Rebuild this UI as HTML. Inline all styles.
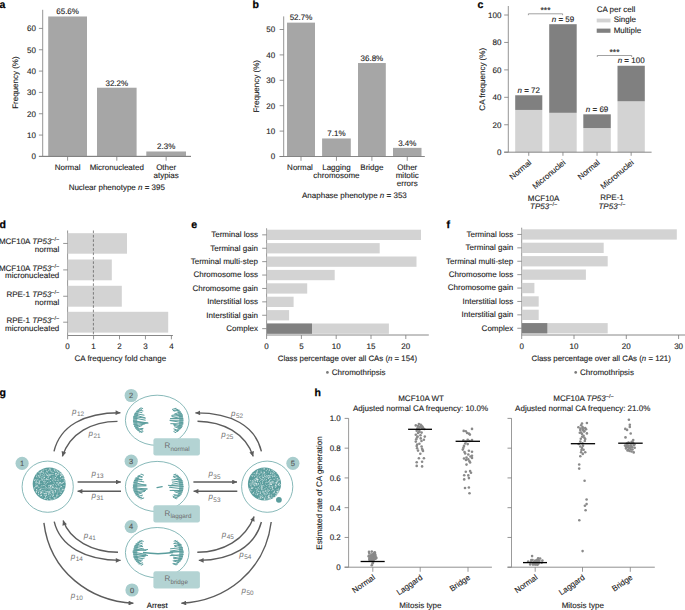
<!DOCTYPE html>
<html><head><meta charset="utf-8"><style>
html,body{margin:0;padding:0;background:#fff;}
svg{display:block;}
text{font-family:"Liberation Sans",sans-serif;text-rendering:geometricPrecision;}
</style></head><body>
<svg width="685" height="610" viewBox="0 0 685 610">
<rect width="685" height="610" fill="#fff"/>
<text x="-0.50" y="7.90" font-size="10.5" font-weight="bold" fill="#000" stroke="#000" stroke-width="0.25">a</text>
<line x1="42.70" y1="9.80" x2="42.70" y2="156.40" stroke="#7a7a7a" stroke-width="0.8" />
<line x1="38.90" y1="156.40" x2="191.00" y2="156.40" stroke="#7a7a7a" stroke-width="0.8" />
<line x1="38.90" y1="156.40" x2="42.70" y2="156.40" stroke="#7a7a7a" stroke-width="0.8" />
<text x="36.00" y="159.30" font-size="8" fill="#1c1c1c" stroke="#1c1c1c" stroke-width="0.12" text-anchor="end" >0</text>
<line x1="38.90" y1="135.07" x2="42.70" y2="135.07" stroke="#7a7a7a" stroke-width="0.8" />
<text x="36.00" y="137.97" font-size="8" fill="#1c1c1c" stroke="#1c1c1c" stroke-width="0.12" text-anchor="end" >10</text>
<line x1="38.90" y1="113.74" x2="42.70" y2="113.74" stroke="#7a7a7a" stroke-width="0.8" />
<text x="36.00" y="116.64" font-size="8" fill="#1c1c1c" stroke="#1c1c1c" stroke-width="0.12" text-anchor="end" >20</text>
<line x1="38.90" y1="92.41" x2="42.70" y2="92.41" stroke="#7a7a7a" stroke-width="0.8" />
<text x="36.00" y="95.31" font-size="8" fill="#1c1c1c" stroke="#1c1c1c" stroke-width="0.12" text-anchor="end" >30</text>
<line x1="38.90" y1="71.08" x2="42.70" y2="71.08" stroke="#7a7a7a" stroke-width="0.8" />
<text x="36.00" y="73.98" font-size="8" fill="#1c1c1c" stroke="#1c1c1c" stroke-width="0.12" text-anchor="end" >40</text>
<line x1="38.90" y1="49.75" x2="42.70" y2="49.75" stroke="#7a7a7a" stroke-width="0.8" />
<text x="36.00" y="52.65" font-size="8" fill="#1c1c1c" stroke="#1c1c1c" stroke-width="0.12" text-anchor="end" >50</text>
<line x1="38.90" y1="28.42" x2="42.70" y2="28.42" stroke="#7a7a7a" stroke-width="0.8" />
<text x="36.00" y="31.32" font-size="8" fill="#1c1c1c" stroke="#1c1c1c" stroke-width="0.12" text-anchor="end" >60</text>
<rect x="48.20" y="16.48" width="38.80" height="139.92" fill="#a6a6a6"/>
<text x="67.60" y="14.28" font-size="8" fill="#1c1c1c" stroke="#1c1c1c" stroke-width="0.12" text-anchor="middle" >65.6%</text>
<line x1="67.60" y1="156.40" x2="67.60" y2="160.70" stroke="#7a7a7a" stroke-width="0.8" />
<text x="67.60" y="170.00" font-size="8" fill="#1c1c1c" stroke="#1c1c1c" stroke-width="0.12" text-anchor="middle" >Normal</text>
<rect x="97.00" y="87.72" width="39.60" height="68.68" fill="#a6a6a6"/>
<text x="116.80" y="85.52" font-size="8" fill="#1c1c1c" stroke="#1c1c1c" stroke-width="0.12" text-anchor="middle" >32.2%</text>
<line x1="116.80" y1="156.40" x2="116.80" y2="160.70" stroke="#7a7a7a" stroke-width="0.8" />
<text x="116.80" y="170.00" font-size="8" fill="#1c1c1c" stroke="#1c1c1c" stroke-width="0.12" text-anchor="middle" >Micronucleated</text>
<rect x="146.30" y="151.49" width="39.70" height="4.91" fill="#a6a6a6"/>
<text x="166.15" y="149.29" font-size="8" fill="#1c1c1c" stroke="#1c1c1c" stroke-width="0.12" text-anchor="middle" >2.3%</text>
<line x1="166.15" y1="156.40" x2="166.15" y2="160.70" stroke="#7a7a7a" stroke-width="0.8" />
<text x="166.15" y="170.00" font-size="8" fill="#1c1c1c" stroke="#1c1c1c" stroke-width="0.12" text-anchor="middle" >Other</text>
<text x="166.15" y="178.00" font-size="8" fill="#1c1c1c" stroke="#1c1c1c" stroke-width="0.12" text-anchor="middle" >atypias</text>
<line x1="42.70" y1="156.40" x2="191.00" y2="156.40" stroke="#7a7a7a" stroke-width="0.9" />
<text x="116.80" y="189.90" font-size="8" fill="#1c1c1c" stroke="#1c1c1c" stroke-width="0.12" text-anchor="middle" >Nuclear phenotype <tspan font-style="italic">n</tspan> = 395</text>
<text x="0" y="0" font-size="8" fill="#1c1c1c" stroke="#1c1c1c" stroke-width="0.12" text-anchor="middle" transform="translate(18.00,82.60) rotate(-90)">Frequency (%)</text>
<text x="252.60" y="7.90" font-size="10.5" font-weight="bold" fill="#000" stroke="#000" stroke-width="0.25">b</text>
<line x1="283.70" y1="16.40" x2="283.70" y2="156.50" stroke="#7a7a7a" stroke-width="0.8" />
<line x1="279.60" y1="156.50" x2="283.70" y2="156.50" stroke="#7a7a7a" stroke-width="0.8" />
<text x="275.10" y="159.40" font-size="8" fill="#1c1c1c" stroke="#1c1c1c" stroke-width="0.12" text-anchor="end" >0</text>
<line x1="279.60" y1="131.10" x2="283.70" y2="131.10" stroke="#7a7a7a" stroke-width="0.8" />
<text x="275.10" y="134.00" font-size="8" fill="#1c1c1c" stroke="#1c1c1c" stroke-width="0.12" text-anchor="end" >10</text>
<line x1="279.60" y1="105.70" x2="283.70" y2="105.70" stroke="#7a7a7a" stroke-width="0.8" />
<text x="275.10" y="108.60" font-size="8" fill="#1c1c1c" stroke="#1c1c1c" stroke-width="0.12" text-anchor="end" >20</text>
<line x1="279.60" y1="80.30" x2="283.70" y2="80.30" stroke="#7a7a7a" stroke-width="0.8" />
<text x="275.10" y="83.20" font-size="8" fill="#1c1c1c" stroke="#1c1c1c" stroke-width="0.12" text-anchor="end" >30</text>
<line x1="279.60" y1="54.90" x2="283.70" y2="54.90" stroke="#7a7a7a" stroke-width="0.8" />
<text x="275.10" y="57.80" font-size="8" fill="#1c1c1c" stroke="#1c1c1c" stroke-width="0.12" text-anchor="end" >40</text>
<line x1="279.60" y1="29.50" x2="283.70" y2="29.50" stroke="#7a7a7a" stroke-width="0.8" />
<text x="275.10" y="32.40" font-size="8" fill="#1c1c1c" stroke="#1c1c1c" stroke-width="0.12" text-anchor="end" >50</text>
<rect x="287.00" y="22.64" width="28.00" height="133.86" fill="#a6a6a6"/>
<text x="301.00" y="20.44" font-size="8" fill="#1c1c1c" stroke="#1c1c1c" stroke-width="0.12" text-anchor="middle" >52.7%</text>
<line x1="301.00" y1="156.50" x2="301.00" y2="160.80" stroke="#7a7a7a" stroke-width="0.8" />
<rect x="322.10" y="138.47" width="28.70" height="18.03" fill="#a6a6a6"/>
<text x="336.45" y="136.27" font-size="8" fill="#1c1c1c" stroke="#1c1c1c" stroke-width="0.12" text-anchor="middle" >7.1%</text>
<line x1="336.45" y1="156.50" x2="336.45" y2="160.80" stroke="#7a7a7a" stroke-width="0.8" />
<rect x="358.00" y="63.03" width="27.80" height="93.47" fill="#a6a6a6"/>
<text x="371.90" y="60.83" font-size="8" fill="#1c1c1c" stroke="#1c1c1c" stroke-width="0.12" text-anchor="middle" >36.8%</text>
<line x1="371.90" y1="156.50" x2="371.90" y2="160.80" stroke="#7a7a7a" stroke-width="0.8" />
<rect x="393.00" y="147.86" width="28.50" height="8.64" fill="#a6a6a6"/>
<text x="407.25" y="145.66" font-size="8" fill="#1c1c1c" stroke="#1c1c1c" stroke-width="0.12" text-anchor="middle" >3.4%</text>
<line x1="407.25" y1="156.50" x2="407.25" y2="160.80" stroke="#7a7a7a" stroke-width="0.8" />
<line x1="279.60" y1="156.50" x2="424.80" y2="156.50" stroke="#7a7a7a" stroke-width="0.9" />
<text x="300.00" y="169.80" font-size="8" fill="#1c1c1c" stroke="#1c1c1c" stroke-width="0.12" text-anchor="middle" >Normal</text>
<text x="336.45" y="169.80" font-size="8" fill="#1c1c1c" stroke="#1c1c1c" stroke-width="0.12" text-anchor="middle" >Lagging</text>
<text x="336.45" y="178.10" font-size="8" fill="#1c1c1c" stroke="#1c1c1c" stroke-width="0.12" text-anchor="middle" >chromosome</text>
<text x="371.90" y="169.80" font-size="8" fill="#1c1c1c" stroke="#1c1c1c" stroke-width="0.12" text-anchor="middle" >Bridge</text>
<text x="407.25" y="169.80" font-size="8" fill="#1c1c1c" stroke="#1c1c1c" stroke-width="0.12" text-anchor="middle" >Other</text>
<text x="407.25" y="178.10" font-size="8" fill="#1c1c1c" stroke="#1c1c1c" stroke-width="0.12" text-anchor="middle" >mitotic</text>
<text x="407.25" y="185.60" font-size="8" fill="#1c1c1c" stroke="#1c1c1c" stroke-width="0.12" text-anchor="middle" >errors</text>
<text x="354.40" y="198.20" font-size="8" fill="#1c1c1c" stroke="#1c1c1c" stroke-width="0.12" text-anchor="middle" >Anaphase phenotype <tspan font-style="italic">n</tspan> = 353</text>
<text x="0" y="0" font-size="8" fill="#1c1c1c" stroke="#1c1c1c" stroke-width="0.12" text-anchor="middle" transform="translate(258.60,86.30) rotate(-90)">Frequency (%)</text>
<text x="477.60" y="7.50" font-size="10.5" font-weight="bold" fill="#000" stroke="#000" stroke-width="0.25">c</text>
<line x1="508.30" y1="6.00" x2="508.30" y2="152.20" stroke="#7a7a7a" stroke-width="0.8" />
<line x1="504.20" y1="152.20" x2="508.30" y2="152.20" stroke="#7a7a7a" stroke-width="0.8" />
<text x="501.40" y="155.10" font-size="8" fill="#1c1c1c" stroke="#1c1c1c" stroke-width="0.12" text-anchor="end" >0</text>
<line x1="504.20" y1="124.76" x2="508.30" y2="124.76" stroke="#7a7a7a" stroke-width="0.8" />
<text x="501.40" y="127.66" font-size="8" fill="#1c1c1c" stroke="#1c1c1c" stroke-width="0.12" text-anchor="end" >20</text>
<line x1="504.20" y1="97.32" x2="508.30" y2="97.32" stroke="#7a7a7a" stroke-width="0.8" />
<text x="501.40" y="100.22" font-size="8" fill="#1c1c1c" stroke="#1c1c1c" stroke-width="0.12" text-anchor="end" >40</text>
<line x1="504.20" y1="69.88" x2="508.30" y2="69.88" stroke="#7a7a7a" stroke-width="0.8" />
<text x="501.40" y="72.78" font-size="8" fill="#1c1c1c" stroke="#1c1c1c" stroke-width="0.12" text-anchor="end" >60</text>
<line x1="504.20" y1="42.44" x2="508.30" y2="42.44" stroke="#7a7a7a" stroke-width="0.8" />
<text x="501.40" y="45.34" font-size="8" fill="#1c1c1c" stroke="#1c1c1c" stroke-width="0.12" text-anchor="end" >80</text>
<line x1="504.20" y1="15.00" x2="508.30" y2="15.00" stroke="#7a7a7a" stroke-width="0.8" />
<text x="501.40" y="17.90" font-size="8" fill="#1c1c1c" stroke="#1c1c1c" stroke-width="0.12" text-anchor="end" >100</text>
<rect x="515.20" y="109.94" width="27.10" height="42.26" fill="#d3d3d3"/>
<rect x="515.20" y="95.26" width="27.10" height="14.68" fill="#808080"/>
<line x1="528.75" y1="152.20" x2="528.75" y2="155.80" stroke="#7a7a7a" stroke-width="0.8" />
<text x="0" y="0" font-size="8" fill="#1c1c1c" stroke="#1c1c1c" stroke-width="0.12" text-anchor="end" transform="translate(531.95,163.40) rotate(-40)">Normal</text>
<text x="528.75" y="92.66" font-size="8" fill="#1c1c1c" stroke="#1c1c1c" stroke-width="0.12" text-anchor="middle" ><tspan font-style="italic">n</tspan> = 72</text>
<rect x="549.20" y="112.82" width="27.50" height="39.38" fill="#d3d3d3"/>
<rect x="549.20" y="24.19" width="27.50" height="88.63" fill="#808080"/>
<line x1="562.95" y1="152.20" x2="562.95" y2="155.80" stroke="#7a7a7a" stroke-width="0.8" />
<text x="0" y="0" font-size="8" fill="#1c1c1c" stroke="#1c1c1c" stroke-width="0.12" text-anchor="end" transform="translate(566.15,163.40) rotate(-40)">Micronuclei</text>
<text x="562.95" y="21.59" font-size="8" fill="#1c1c1c" stroke="#1c1c1c" stroke-width="0.12" text-anchor="middle" ><tspan font-style="italic">n</tspan> = 59</text>
<rect x="583.30" y="128.05" width="27.50" height="24.15" fill="#d3d3d3"/>
<rect x="583.30" y="114.33" width="27.50" height="13.72" fill="#808080"/>
<line x1="597.05" y1="152.20" x2="597.05" y2="155.80" stroke="#7a7a7a" stroke-width="0.8" />
<text x="0" y="0" font-size="8" fill="#1c1c1c" stroke="#1c1c1c" stroke-width="0.12" text-anchor="end" transform="translate(600.25,163.40) rotate(-40)">Normal</text>
<text x="597.05" y="111.73" font-size="8" fill="#1c1c1c" stroke="#1c1c1c" stroke-width="0.12" text-anchor="middle" ><tspan font-style="italic">n</tspan> = 69</text>
<rect x="617.50" y="101.30" width="27.30" height="50.90" fill="#d3d3d3"/>
<rect x="617.50" y="65.76" width="27.30" height="35.53" fill="#808080"/>
<line x1="631.15" y1="152.20" x2="631.15" y2="155.80" stroke="#7a7a7a" stroke-width="0.8" />
<text x="0" y="0" font-size="8" fill="#1c1c1c" stroke="#1c1c1c" stroke-width="0.12" text-anchor="end" transform="translate(634.35,163.40) rotate(-40)">Micronuclei</text>
<text x="631.15" y="63.16" font-size="8" fill="#1c1c1c" stroke="#1c1c1c" stroke-width="0.12" text-anchor="middle" ><tspan font-style="italic">n</tspan> = 100</text>
<line x1="504.20" y1="152.20" x2="651.60" y2="152.20" stroke="#7a7a7a" stroke-width="0.9" />
<path d="M528.4,15.2 V13.8 H562.6 V15.2" fill="none" stroke="#7a7a7a" stroke-width="0.7"/>
<text x="545.50" y="13.30" font-size="8.5" fill="#1c1c1c" stroke="#1c1c1c" stroke-width="0.12" text-anchor="middle" >***</text>
<path d="M597.3,57 V55.5 H631.7 V57" fill="none" stroke="#7a7a7a" stroke-width="0.7"/>
<text x="614.50" y="55.00" font-size="8.5" fill="#1c1c1c" stroke="#1c1c1c" stroke-width="0.12" text-anchor="middle" >***</text>
<text x="596.70" y="11.60" font-size="8" fill="#1c1c1c" stroke="#1c1c1c" stroke-width="0.12" text-anchor="start" >CA per cell</text>
<rect x="596.70" y="18.60" width="13.80" height="3.80" fill="#d3d3d3"/>
<text x="613.70" y="22.40" font-size="8" fill="#1c1c1c" stroke="#1c1c1c" stroke-width="0.12" text-anchor="start" >Single</text>
<rect x="596.70" y="28.60" width="13.80" height="4.20" fill="#808080"/>
<text x="613.70" y="32.80" font-size="8" fill="#1c1c1c" stroke="#1c1c1c" stroke-width="0.12" text-anchor="start" >Multiple</text>
<text x="543.60" y="201.20" font-size="8" fill="#1c1c1c" stroke="#1c1c1c" stroke-width="0.12" text-anchor="middle" >MCF10A</text>
<text x="543.60" y="209.30" font-size="8" fill="#1c1c1c" stroke="#1c1c1c" stroke-width="0.12" text-anchor="middle" ><tspan font-style="italic">TP53</tspan><tspan font-size="5.5" dy="-3.2">&#8722;/&#8722;</tspan></text>
<text x="612.00" y="200.40" font-size="8" fill="#1c1c1c" stroke="#1c1c1c" stroke-width="0.12" text-anchor="middle" >RPE-1</text>
<text x="612.00" y="209.30" font-size="8" fill="#1c1c1c" stroke="#1c1c1c" stroke-width="0.12" text-anchor="middle" ><tspan font-style="italic">TP53</tspan><tspan font-size="5.5" dy="-3.2">&#8722;/&#8722;</tspan></text>
<text x="0" y="0" font-size="8" fill="#1c1c1c" stroke="#1c1c1c" stroke-width="0.12" text-anchor="middle" transform="translate(484.90,79.30) rotate(-90)">CA frequency (%)</text>
<text x="-0.50" y="228.30" font-size="10.5" font-weight="bold" fill="#000" stroke="#000" stroke-width="0.25">d</text>
<line x1="67.60" y1="230.50" x2="67.60" y2="335.50" stroke="#7a7a7a" stroke-width="0.8" />
<line x1="67.60" y1="335.50" x2="172.90" y2="335.50" stroke="#7a7a7a" stroke-width="0.9" />
<rect x="67.60" y="233.20" width="59.40" height="20.50" fill="#d3d3d3"/>
<line x1="63.20" y1="243.45" x2="67.60" y2="243.45" stroke="#7a7a7a" stroke-width="0.8" />
<text x="59.30" y="244.45" font-size="8" fill="#1c1c1c" stroke="#1c1c1c" stroke-width="0.12" text-anchor="end" >MCF10A <tspan font-style="italic">TP53</tspan><tspan font-size="5.5" dy="-3.2">&#8722;/&#8722;</tspan></text>
<text x="59.30" y="251.85" font-size="8" fill="#1c1c1c" stroke="#1c1c1c" stroke-width="0.12" text-anchor="end" >normal</text>
<rect x="67.60" y="259.50" width="44.20" height="20.80" fill="#d3d3d3"/>
<line x1="63.20" y1="269.90" x2="67.60" y2="269.90" stroke="#7a7a7a" stroke-width="0.8" />
<text x="59.30" y="270.90" font-size="8" fill="#1c1c1c" stroke="#1c1c1c" stroke-width="0.12" text-anchor="end" >MCF10A <tspan font-style="italic">TP53</tspan><tspan font-size="5.5" dy="-3.2">&#8722;/&#8722;</tspan></text>
<text x="59.30" y="278.30" font-size="8" fill="#1c1c1c" stroke="#1c1c1c" stroke-width="0.12" text-anchor="end" >micronucleated</text>
<rect x="67.60" y="285.80" width="54.20" height="20.90" fill="#d3d3d3"/>
<line x1="63.20" y1="296.25" x2="67.60" y2="296.25" stroke="#7a7a7a" stroke-width="0.8" />
<text x="59.30" y="297.25" font-size="8" fill="#1c1c1c" stroke="#1c1c1c" stroke-width="0.12" text-anchor="end" >RPE-1 <tspan font-style="italic">TP53</tspan><tspan font-size="5.5" dy="-3.2">&#8722;/&#8722;</tspan></text>
<text x="59.30" y="304.65" font-size="8" fill="#1c1c1c" stroke="#1c1c1c" stroke-width="0.12" text-anchor="end" >normal</text>
<rect x="67.60" y="311.80" width="100.60" height="20.80" fill="#d3d3d3"/>
<line x1="63.20" y1="322.20" x2="67.60" y2="322.20" stroke="#7a7a7a" stroke-width="0.8" />
<text x="59.30" y="323.20" font-size="8" fill="#1c1c1c" stroke="#1c1c1c" stroke-width="0.12" text-anchor="end" >RPE-1 <tspan font-style="italic">TP53</tspan><tspan font-size="5.5" dy="-3.2">&#8722;/&#8722;</tspan></text>
<text x="59.30" y="330.60" font-size="8" fill="#1c1c1c" stroke="#1c1c1c" stroke-width="0.12" text-anchor="end" >micronucleated</text>
<line x1="67.60" y1="335.50" x2="67.60" y2="339.30" stroke="#7a7a7a" stroke-width="0.8" />
<text x="67.60" y="348.60" font-size="8" fill="#1c1c1c" stroke="#1c1c1c" stroke-width="0.12" text-anchor="middle" >0</text>
<line x1="93.55" y1="335.50" x2="93.55" y2="339.30" stroke="#7a7a7a" stroke-width="0.8" />
<text x="93.55" y="348.60" font-size="8" fill="#1c1c1c" stroke="#1c1c1c" stroke-width="0.12" text-anchor="middle" >1</text>
<line x1="119.50" y1="335.50" x2="119.50" y2="339.30" stroke="#7a7a7a" stroke-width="0.8" />
<text x="119.50" y="348.60" font-size="8" fill="#1c1c1c" stroke="#1c1c1c" stroke-width="0.12" text-anchor="middle" >2</text>
<line x1="145.45" y1="335.50" x2="145.45" y2="339.30" stroke="#7a7a7a" stroke-width="0.8" />
<text x="145.45" y="348.60" font-size="8" fill="#1c1c1c" stroke="#1c1c1c" stroke-width="0.12" text-anchor="middle" >3</text>
<line x1="171.40" y1="335.50" x2="171.40" y2="339.30" stroke="#7a7a7a" stroke-width="0.8" />
<text x="171.40" y="348.60" font-size="8" fill="#1c1c1c" stroke="#1c1c1c" stroke-width="0.12" text-anchor="middle" >4</text>
<line x1="93.4" y1="230.5" x2="93.4" y2="335.5" stroke="#555" stroke-width="0.7" stroke-dasharray="2.6,1.8"/>
<text x="120.30" y="360.60" font-size="8" fill="#1c1c1c" stroke="#1c1c1c" stroke-width="0.12" text-anchor="middle" >CA frequency fold change</text>
<text x="191.20" y="228.30" font-size="10.5" font-weight="bold" fill="#000" stroke="#000" stroke-width="0.25">e</text>
<line x1="266.60" y1="228.30" x2="266.60" y2="335.00" stroke="#7a7a7a" stroke-width="0.8" />
<rect x="266.60" y="229.70" width="154.40" height="10.30" fill="#d3d3d3"/>
<line x1="262.20" y1="234.85" x2="266.60" y2="234.85" stroke="#7a7a7a" stroke-width="0.8" />
<text x="257.90" y="237.25" font-size="8" fill="#1c1c1c" stroke="#1c1c1c" stroke-width="0.12" text-anchor="end" >Terminal loss</text>
<rect x="266.60" y="243.10" width="113.10" height="10.30" fill="#d3d3d3"/>
<line x1="262.20" y1="248.25" x2="266.60" y2="248.25" stroke="#7a7a7a" stroke-width="0.8" />
<text x="257.90" y="250.65" font-size="8" fill="#1c1c1c" stroke="#1c1c1c" stroke-width="0.12" text-anchor="end" >Terminal gain</text>
<rect x="266.60" y="256.50" width="149.90" height="10.30" fill="#d3d3d3"/>
<line x1="262.20" y1="261.65" x2="266.60" y2="261.65" stroke="#7a7a7a" stroke-width="0.8" />
<text x="257.90" y="264.05" font-size="8" fill="#1c1c1c" stroke="#1c1c1c" stroke-width="0.12" text-anchor="end" >Terminal multi-step</text>
<rect x="266.60" y="269.90" width="68.10" height="10.30" fill="#d3d3d3"/>
<line x1="262.20" y1="275.05" x2="266.60" y2="275.05" stroke="#7a7a7a" stroke-width="0.8" />
<text x="257.90" y="277.45" font-size="8" fill="#1c1c1c" stroke="#1c1c1c" stroke-width="0.12" text-anchor="end" >Chromosome loss</text>
<rect x="266.60" y="283.30" width="40.60" height="10.30" fill="#d3d3d3"/>
<line x1="262.20" y1="288.45" x2="266.60" y2="288.45" stroke="#7a7a7a" stroke-width="0.8" />
<text x="257.90" y="290.85" font-size="8" fill="#1c1c1c" stroke="#1c1c1c" stroke-width="0.12" text-anchor="end" >Chromosome gain</text>
<rect x="266.60" y="296.70" width="27.00" height="10.30" fill="#d3d3d3"/>
<line x1="262.20" y1="301.85" x2="266.60" y2="301.85" stroke="#7a7a7a" stroke-width="0.8" />
<text x="257.90" y="304.25" font-size="8" fill="#1c1c1c" stroke="#1c1c1c" stroke-width="0.12" text-anchor="end" >Interstitial loss</text>
<rect x="266.60" y="310.10" width="22.50" height="10.30" fill="#d3d3d3"/>
<line x1="262.20" y1="315.25" x2="266.60" y2="315.25" stroke="#7a7a7a" stroke-width="0.8" />
<text x="257.90" y="317.65" font-size="8" fill="#1c1c1c" stroke="#1c1c1c" stroke-width="0.12" text-anchor="end" >Interstitial gain</text>
<rect x="266.60" y="323.50" width="122.30" height="10.30" fill="#d3d3d3"/>
<rect x="266.60" y="323.50" width="45.40" height="10.30" fill="#808080"/>
<line x1="262.20" y1="328.65" x2="266.60" y2="328.65" stroke="#7a7a7a" stroke-width="0.8" />
<text x="257.90" y="331.05" font-size="8" fill="#1c1c1c" stroke="#1c1c1c" stroke-width="0.12" text-anchor="end" >Complex</text>
<line x1="266.60" y1="335.00" x2="428.80" y2="335.00" stroke="#7a7a7a" stroke-width="0.9" />
<line x1="266.60" y1="335.00" x2="266.60" y2="339.00" stroke="#7a7a7a" stroke-width="0.8" />
<text x="266.60" y="349.40" font-size="8" fill="#1c1c1c" stroke="#1c1c1c" stroke-width="0.12" text-anchor="middle" >0</text>
<line x1="301.40" y1="335.00" x2="301.40" y2="339.00" stroke="#7a7a7a" stroke-width="0.8" />
<text x="301.40" y="349.40" font-size="8" fill="#1c1c1c" stroke="#1c1c1c" stroke-width="0.12" text-anchor="middle" >5</text>
<line x1="336.20" y1="335.00" x2="336.20" y2="339.00" stroke="#7a7a7a" stroke-width="0.8" />
<text x="336.20" y="349.40" font-size="8" fill="#1c1c1c" stroke="#1c1c1c" stroke-width="0.12" text-anchor="middle" >10</text>
<line x1="371.00" y1="335.00" x2="371.00" y2="339.00" stroke="#7a7a7a" stroke-width="0.8" />
<text x="371.00" y="349.40" font-size="8" fill="#1c1c1c" stroke="#1c1c1c" stroke-width="0.12" text-anchor="middle" >15</text>
<line x1="405.80" y1="335.00" x2="405.80" y2="339.00" stroke="#7a7a7a" stroke-width="0.8" />
<text x="405.80" y="349.40" font-size="8" fill="#1c1c1c" stroke="#1c1c1c" stroke-width="0.12" text-anchor="middle" >20</text>
<text x="347.40" y="361.00" font-size="7.85" fill="#1c1c1c" stroke="#1c1c1c" stroke-width="0.12" text-anchor="middle" >Class percentage over all CAs (<tspan font-style="italic">n</tspan> = 154)</text>
<circle cx="327.40" cy="372.4" r="1.35" fill="#7a7a7a"/>
<text x="331.80" y="374.60" font-size="8" fill="#1c1c1c" stroke="#1c1c1c" stroke-width="0.12" text-anchor="start" >Chromothripsis</text>
<text x="446.40" y="228.30" font-size="10.5" font-weight="bold" fill="#000" stroke="#000" stroke-width="0.25">f</text>
<line x1="521.70" y1="227.70" x2="521.70" y2="335.00" stroke="#7a7a7a" stroke-width="0.8" />
<rect x="521.70" y="229.30" width="155.10" height="10.30" fill="#d3d3d3"/>
<line x1="517.30" y1="234.45" x2="521.70" y2="234.45" stroke="#7a7a7a" stroke-width="0.8" />
<text x="513.20" y="236.85" font-size="8" fill="#1c1c1c" stroke="#1c1c1c" stroke-width="0.12" text-anchor="end" >Terminal loss</text>
<rect x="521.70" y="242.70" width="82.00" height="10.30" fill="#d3d3d3"/>
<line x1="517.30" y1="247.85" x2="521.70" y2="247.85" stroke="#7a7a7a" stroke-width="0.8" />
<text x="513.20" y="250.25" font-size="8" fill="#1c1c1c" stroke="#1c1c1c" stroke-width="0.12" text-anchor="end" >Terminal gain</text>
<rect x="521.70" y="256.10" width="86.00" height="10.30" fill="#d3d3d3"/>
<line x1="517.30" y1="261.25" x2="521.70" y2="261.25" stroke="#7a7a7a" stroke-width="0.8" />
<text x="513.20" y="263.65" font-size="8" fill="#1c1c1c" stroke="#1c1c1c" stroke-width="0.12" text-anchor="end" >Terminal multi-step</text>
<rect x="521.70" y="269.50" width="64.20" height="10.30" fill="#d3d3d3"/>
<line x1="517.30" y1="274.65" x2="521.70" y2="274.65" stroke="#7a7a7a" stroke-width="0.8" />
<text x="513.20" y="277.05" font-size="8" fill="#1c1c1c" stroke="#1c1c1c" stroke-width="0.12" text-anchor="end" >Chromosome loss</text>
<rect x="521.70" y="282.90" width="12.70" height="10.30" fill="#d3d3d3"/>
<line x1="517.30" y1="288.05" x2="521.70" y2="288.05" stroke="#7a7a7a" stroke-width="0.8" />
<text x="513.20" y="290.45" font-size="8" fill="#1c1c1c" stroke="#1c1c1c" stroke-width="0.12" text-anchor="end" >Chromosome gain</text>
<rect x="521.70" y="296.30" width="17.00" height="10.30" fill="#d3d3d3"/>
<line x1="517.30" y1="301.45" x2="521.70" y2="301.45" stroke="#7a7a7a" stroke-width="0.8" />
<text x="513.20" y="303.85" font-size="8" fill="#1c1c1c" stroke="#1c1c1c" stroke-width="0.12" text-anchor="end" >Interstitial loss</text>
<rect x="521.70" y="309.70" width="17.00" height="10.30" fill="#d3d3d3"/>
<line x1="517.30" y1="314.85" x2="521.70" y2="314.85" stroke="#7a7a7a" stroke-width="0.8" />
<text x="513.20" y="317.25" font-size="8" fill="#1c1c1c" stroke="#1c1c1c" stroke-width="0.12" text-anchor="end" >Interstitial gain</text>
<rect x="521.70" y="323.10" width="86.00" height="10.30" fill="#d3d3d3"/>
<rect x="521.70" y="323.10" width="25.60" height="10.30" fill="#808080"/>
<line x1="517.30" y1="328.25" x2="521.70" y2="328.25" stroke="#7a7a7a" stroke-width="0.8" />
<text x="513.20" y="330.65" font-size="8" fill="#1c1c1c" stroke="#1c1c1c" stroke-width="0.12" text-anchor="end" >Complex</text>
<line x1="521.70" y1="335.00" x2="686.00" y2="335.00" stroke="#7a7a7a" stroke-width="0.9" />
<line x1="521.70" y1="335.00" x2="521.70" y2="339.00" stroke="#7a7a7a" stroke-width="0.8" />
<text x="521.70" y="349.40" font-size="8" fill="#1c1c1c" stroke="#1c1c1c" stroke-width="0.12" text-anchor="middle" >0</text>
<line x1="574.00" y1="335.00" x2="574.00" y2="339.00" stroke="#7a7a7a" stroke-width="0.8" />
<text x="574.00" y="349.40" font-size="8" fill="#1c1c1c" stroke="#1c1c1c" stroke-width="0.12" text-anchor="middle" >10</text>
<line x1="626.30" y1="335.00" x2="626.30" y2="339.00" stroke="#7a7a7a" stroke-width="0.8" />
<text x="626.30" y="349.40" font-size="8" fill="#1c1c1c" stroke="#1c1c1c" stroke-width="0.12" text-anchor="middle" >20</text>
<line x1="678.60" y1="335.00" x2="678.60" y2="339.00" stroke="#7a7a7a" stroke-width="0.8" />
<text x="678.60" y="349.40" font-size="8" fill="#1c1c1c" stroke="#1c1c1c" stroke-width="0.12" text-anchor="middle" >30</text>
<text x="601.20" y="361.00" font-size="7.85" fill="#1c1c1c" stroke="#1c1c1c" stroke-width="0.12" text-anchor="middle" >Class percentage over all CAs (<tspan font-style="italic">n</tspan> = 121)</text>
<circle cx="575.70" cy="372.4" r="1.35" fill="#7a7a7a"/>
<text x="580.10" y="374.60" font-size="8" fill="#1c1c1c" stroke="#1c1c1c" stroke-width="0.12" text-anchor="start" >Chromothripsis</text>
<text x="-0.50" y="396.20" font-size="10.5" font-weight="bold" fill="#000" stroke="#000" stroke-width="0.25">g</text>
<defs><marker id="ah" viewBox="0 0 10 10" refX="10" refY="5" markerWidth="5.4" markerHeight="4.8" orient="auto" markerUnits="userSpaceOnUse"><path d="M0,0 L10,5 L0,10 z" fill="#5c5c5c"/></marker></defs>
<circle cx="47.7" cy="486.7" r="25.6" fill="#fff" stroke="#6aa7a7" stroke-width="0.8"/>
<circle cx="49.2" cy="484.0" r="16.5" fill="#5a9d9d"/>
<rect x="50.09" y="495.77" width="0.8" height="0.8" fill="#fff" opacity="0.57"/><rect x="39.14" y="476.31" width="0.8" height="0.8" fill="#fff" opacity="0.39"/><rect x="63.80" y="485.21" width="0.8" height="0.8" fill="#fff" opacity="0.51"/><rect x="50.77" y="499.89" width="0.8" height="0.8" fill="#fff" opacity="0.63"/><rect x="54.91" y="474.54" width="0.8" height="0.8" fill="#fff" opacity="0.73"/><rect x="56.66" y="494.35" width="0.8" height="0.8" fill="#fff" opacity="0.87"/><rect x="35.57" y="482.00" width="0.8" height="0.8" fill="#fff" opacity="0.75"/><rect x="62.02" y="489.46" width="0.8" height="0.8" fill="#fff" opacity="0.70"/><rect x="48.31" y="486.67" width="0.8" height="0.8" fill="#fff" opacity="0.87"/><rect x="35.83" y="486.31" width="0.8" height="0.8" fill="#fff" opacity="0.88"/><rect x="45.77" y="469.03" width="0.8" height="0.8" fill="#fff" opacity="0.59"/><rect x="52.56" y="473.87" width="0.8" height="0.8" fill="#fff" opacity="0.91"/><rect x="52.82" y="480.55" width="0.8" height="0.8" fill="#fff" opacity="0.43"/><rect x="52.44" y="499.39" width="0.8" height="0.8" fill="#fff" opacity="0.61"/><rect x="43.06" y="477.73" width="0.8" height="0.8" fill="#fff" opacity="0.65"/><rect x="42.05" y="490.23" width="0.8" height="0.8" fill="#fff" opacity="0.70"/><rect x="36.06" y="476.31" width="0.8" height="0.8" fill="#fff" opacity="0.76"/><rect x="62.56" y="477.60" width="0.8" height="0.8" fill="#fff" opacity="0.94"/><rect x="46.13" y="478.31" width="0.8" height="0.8" fill="#fff" opacity="0.87"/><rect x="64.05" y="480.64" width="0.8" height="0.8" fill="#fff" opacity="0.69"/><rect x="47.54" y="476.84" width="0.8" height="0.8" fill="#fff" opacity="0.85"/><rect x="41.55" y="480.19" width="0.8" height="0.8" fill="#fff" opacity="0.39"/><rect x="58.88" y="471.35" width="0.8" height="0.8" fill="#fff" opacity="0.40"/><rect x="52.41" y="474.26" width="0.8" height="0.8" fill="#fff" opacity="0.44"/><rect x="45.38" y="497.50" width="0.8" height="0.8" fill="#fff" opacity="0.87"/><rect x="61.27" y="487.44" width="0.8" height="0.8" fill="#fff" opacity="0.38"/><rect x="47.39" y="474.97" width="0.8" height="0.8" fill="#fff" opacity="0.88"/><rect x="60.49" y="482.62" width="0.8" height="0.8" fill="#fff" opacity="0.95"/><rect x="47.57" y="488.13" width="0.8" height="0.8" fill="#fff" opacity="0.71"/><rect x="56.17" y="485.39" width="0.8" height="0.8" fill="#fff" opacity="0.59"/><rect x="44.34" y="479.95" width="0.8" height="0.8" fill="#fff" opacity="0.38"/><rect x="55.25" y="477.38" width="0.8" height="0.8" fill="#fff" opacity="0.93"/><rect x="57.04" y="478.05" width="0.8" height="0.8" fill="#fff" opacity="0.63"/><rect x="36.46" y="482.38" width="0.8" height="0.8" fill="#fff" opacity="0.71"/><rect x="37.46" y="479.41" width="0.8" height="0.8" fill="#fff" opacity="0.91"/><rect x="38.70" y="483.54" width="0.8" height="0.8" fill="#fff" opacity="0.78"/><rect x="49.88" y="492.76" width="0.8" height="0.8" fill="#fff" opacity="0.94"/><rect x="37.45" y="482.43" width="0.8" height="0.8" fill="#fff" opacity="0.36"/><rect x="38.70" y="490.19" width="0.8" height="0.8" fill="#fff" opacity="0.36"/><rect x="39.70" y="475.54" width="0.8" height="0.8" fill="#fff" opacity="0.39"/><rect x="41.59" y="476.16" width="0.8" height="0.8" fill="#fff" opacity="0.76"/><rect x="41.11" y="494.76" width="0.8" height="0.8" fill="#fff" opacity="0.79"/><rect x="53.10" y="484.55" width="0.8" height="0.8" fill="#fff" opacity="0.76"/><rect x="57.01" y="482.17" width="0.8" height="0.8" fill="#fff" opacity="0.62"/><rect x="41.64" y="479.02" width="0.8" height="0.8" fill="#fff" opacity="0.57"/><rect x="45.47" y="492.98" width="0.8" height="0.8" fill="#fff" opacity="0.71"/><rect x="46.14" y="493.34" width="0.8" height="0.8" fill="#fff" opacity="0.81"/><rect x="61.10" y="486.03" width="0.8" height="0.8" fill="#fff" opacity="0.79"/><rect x="46.42" y="491.02" width="0.8" height="0.8" fill="#fff" opacity="0.83"/><rect x="49.69" y="490.91" width="0.8" height="0.8" fill="#fff" opacity="0.61"/><rect x="47.56" y="479.16" width="0.8" height="0.8" fill="#fff" opacity="0.54"/><rect x="41.86" y="496.64" width="0.8" height="0.8" fill="#fff" opacity="0.61"/><rect x="53.25" y="478.81" width="0.8" height="0.8" fill="#fff" opacity="0.55"/><rect x="40.37" y="471.81" width="0.8" height="0.8" fill="#fff" opacity="0.62"/><rect x="50.07" y="489.50" width="0.8" height="0.8" fill="#fff" opacity="0.67"/><rect x="54.42" y="497.39" width="0.8" height="0.8" fill="#fff" opacity="0.85"/><rect x="52.62" y="491.72" width="0.8" height="0.8" fill="#fff" opacity="0.83"/><rect x="40.17" y="472.82" width="0.8" height="0.8" fill="#fff" opacity="0.56"/><rect x="55.13" y="490.29" width="0.8" height="0.8" fill="#fff" opacity="0.83"/><rect x="47.95" y="493.34" width="0.8" height="0.8" fill="#fff" opacity="0.60"/><rect x="40.23" y="488.95" width="0.8" height="0.8" fill="#fff" opacity="0.90"/><rect x="49.81" y="484.91" width="0.8" height="0.8" fill="#fff" opacity="0.92"/><rect x="60.79" y="473.11" width="0.8" height="0.8" fill="#fff" opacity="0.61"/><rect x="63.86" y="479.25" width="0.8" height="0.8" fill="#fff" opacity="0.48"/><rect x="48.79" y="469.37" width="0.8" height="0.8" fill="#fff" opacity="0.75"/><rect x="40.66" y="482.97" width="0.8" height="0.8" fill="#fff" opacity="0.55"/><rect x="49.79" y="488.13" width="0.8" height="0.8" fill="#fff" opacity="0.70"/><rect x="45.88" y="498.02" width="0.8" height="0.8" fill="#fff" opacity="0.38"/><rect x="60.16" y="476.41" width="0.8" height="0.8" fill="#fff" opacity="0.90"/><rect x="61.29" y="474.81" width="0.8" height="0.8" fill="#fff" opacity="0.70"/><rect x="62.97" y="485.14" width="0.8" height="0.8" fill="#fff" opacity="0.45"/><rect x="45.18" y="496.40" width="0.8" height="0.8" fill="#fff" opacity="0.66"/><rect x="35.91" y="492.00" width="0.8" height="0.8" fill="#fff" opacity="0.72"/><rect x="44.83" y="490.75" width="0.8" height="0.8" fill="#fff" opacity="0.87"/><rect x="35.19" y="486.02" width="0.8" height="0.8" fill="#fff" opacity="0.56"/><rect x="53.00" y="495.07" width="0.8" height="0.8" fill="#fff" opacity="0.84"/><rect x="55.96" y="496.53" width="0.8" height="0.8" fill="#fff" opacity="0.90"/><rect x="54.21" y="470.37" width="0.8" height="0.8" fill="#fff" opacity="0.35"/><rect x="38.93" y="473.25" width="0.8" height="0.8" fill="#fff" opacity="0.38"/><rect x="48.09" y="492.22" width="0.8" height="0.8" fill="#fff" opacity="0.67"/><rect x="39.46" y="489.12" width="0.8" height="0.8" fill="#fff" opacity="0.82"/><rect x="52.95" y="484.04" width="0.8" height="0.8" fill="#fff" opacity="0.43"/><rect x="52.17" y="486.95" width="0.8" height="0.8" fill="#fff" opacity="0.93"/><rect x="52.07" y="480.28" width="0.8" height="0.8" fill="#fff" opacity="0.65"/><rect x="45.59" y="492.22" width="0.8" height="0.8" fill="#fff" opacity="0.56"/><rect x="41.80" y="474.22" width="0.8" height="0.8" fill="#fff" opacity="0.57"/><rect x="52.52" y="492.56" width="0.8" height="0.8" fill="#fff" opacity="0.42"/><rect x="36.47" y="479.37" width="0.8" height="0.8" fill="#fff" opacity="0.58"/><rect x="55.13" y="487.25" width="0.8" height="0.8" fill="#fff" opacity="0.57"/><rect x="37.98" y="475.36" width="0.8" height="0.8" fill="#fff" opacity="0.58"/><rect x="53.19" y="472.01" width="0.8" height="0.8" fill="#fff" opacity="0.61"/><rect x="41.36" y="492.10" width="0.8" height="0.8" fill="#fff" opacity="0.77"/><rect x="37.49" y="490.39" width="0.8" height="0.8" fill="#fff" opacity="0.63"/><rect x="49.56" y="495.71" width="0.8" height="0.8" fill="#fff" opacity="0.77"/><rect x="58.60" y="488.54" width="0.8" height="0.8" fill="#fff" opacity="0.61"/><rect x="60.47" y="473.37" width="0.8" height="0.8" fill="#fff" opacity="0.57"/><rect x="60.60" y="475.48" width="0.8" height="0.8" fill="#fff" opacity="0.51"/><rect x="43.73" y="485.25" width="0.8" height="0.8" fill="#fff" opacity="0.84"/><rect x="41.31" y="471.16" width="0.8" height="0.8" fill="#fff" opacity="0.83"/><rect x="42.41" y="472.09" width="0.8" height="0.8" fill="#fff" opacity="0.69"/><rect x="58.98" y="491.41" width="0.8" height="0.8" fill="#fff" opacity="0.35"/><rect x="57.94" y="495.05" width="0.8" height="0.8" fill="#fff" opacity="0.38"/><rect x="53.43" y="486.75" width="0.8" height="0.8" fill="#fff" opacity="0.88"/><rect x="50.26" y="486.21" width="0.8" height="0.8" fill="#fff" opacity="0.85"/><rect x="59.84" y="494.15" width="0.8" height="0.8" fill="#fff" opacity="0.75"/><rect x="57.25" y="470.62" width="0.8" height="0.8" fill="#fff" opacity="0.70"/><rect x="50.12" y="481.09" width="0.8" height="0.8" fill="#fff" opacity="0.81"/><rect x="35.70" y="483.04" width="0.8" height="0.8" fill="#fff" opacity="0.41"/><rect x="49.10" y="468.53" width="0.8" height="0.8" fill="#fff" opacity="0.39"/><rect x="43.79" y="494.74" width="0.8" height="0.8" fill="#fff" opacity="0.85"/><rect x="49.54" y="490.78" width="0.8" height="0.8" fill="#fff" opacity="0.50"/><rect x="38.84" y="474.75" width="0.8" height="0.8" fill="#fff" opacity="0.59"/><rect x="42.42" y="491.46" width="0.8" height="0.8" fill="#fff" opacity="0.56"/><rect x="45.18" y="486.27" width="0.8" height="0.8" fill="#fff" opacity="0.65"/><rect x="59.34" y="482.27" width="0.8" height="0.8" fill="#fff" opacity="0.80"/><rect x="56.28" y="495.26" width="0.8" height="0.8" fill="#fff" opacity="0.80"/><rect x="43.90" y="473.78" width="0.8" height="0.8" fill="#fff" opacity="0.64"/><rect x="39.75" y="472.14" width="0.8" height="0.8" fill="#fff" opacity="0.44"/><rect x="60.61" y="491.84" width="0.8" height="0.8" fill="#fff" opacity="0.90"/><rect x="38.61" y="482.85" width="0.8" height="0.8" fill="#fff" opacity="0.78"/><rect x="52.43" y="491.62" width="0.8" height="0.8" fill="#fff" opacity="0.47"/><rect x="41.49" y="479.40" width="0.8" height="0.8" fill="#fff" opacity="0.49"/><rect x="43.55" y="469.43" width="0.8" height="0.8" fill="#fff" opacity="0.53"/><rect x="46.35" y="474.11" width="0.8" height="0.8" fill="#fff" opacity="0.86"/><rect x="42.07" y="479.80" width="0.8" height="0.8" fill="#fff" opacity="0.48"/><rect x="60.17" y="485.60" width="0.8" height="0.8" fill="#fff" opacity="0.58"/><rect x="53.71" y="492.49" width="0.8" height="0.8" fill="#fff" opacity="0.54"/><rect x="50.12" y="478.00" width="0.8" height="0.8" fill="#fff" opacity="0.94"/><rect x="36.91" y="485.58" width="0.8" height="0.8" fill="#fff" opacity="0.63"/><rect x="56.55" y="471.49" width="0.8" height="0.8" fill="#fff" opacity="0.68"/><rect x="35.71" y="485.59" width="0.8" height="0.8" fill="#fff" opacity="0.86"/><rect x="38.10" y="492.04" width="0.8" height="0.8" fill="#fff" opacity="0.93"/><rect x="41.69" y="485.56" width="0.8" height="0.8" fill="#fff" opacity="0.49"/><rect x="46.55" y="471.12" width="0.8" height="0.8" fill="#fff" opacity="0.93"/><rect x="53.98" y="477.74" width="0.8" height="0.8" fill="#fff" opacity="0.46"/><rect x="48.83" y="490.91" width="0.8" height="0.8" fill="#fff" opacity="0.77"/><rect x="58.77" y="472.22" width="0.8" height="0.8" fill="#fff" opacity="0.50"/><rect x="55.13" y="477.28" width="0.8" height="0.8" fill="#fff" opacity="0.60"/><rect x="48.58" y="479.35" width="0.8" height="0.8" fill="#fff" opacity="0.41"/><rect x="53.55" y="476.53" width="0.8" height="0.8" fill="#fff" opacity="0.56"/><rect x="37.68" y="477.64" width="0.8" height="0.8" fill="#fff" opacity="0.35"/><rect x="43.83" y="493.11" width="0.8" height="0.8" fill="#fff" opacity="0.64"/><rect x="52.24" y="495.86" width="0.8" height="0.8" fill="#fff" opacity="0.92"/><rect x="40.06" y="491.47" width="0.8" height="0.8" fill="#fff" opacity="0.42"/><rect x="47.18" y="496.90" width="0.8" height="0.8" fill="#fff" opacity="0.42"/><rect x="60.78" y="474.07" width="0.8" height="0.8" fill="#fff" opacity="0.41"/><rect x="58.33" y="480.47" width="0.8" height="0.8" fill="#fff" opacity="0.81"/><rect x="49.60" y="475.31" width="0.8" height="0.8" fill="#fff" opacity="0.76"/><rect x="41.05" y="472.16" width="0.8" height="0.8" fill="#fff" opacity="0.51"/><rect x="49.61" y="468.31" width="0.8" height="0.8" fill="#fff" opacity="0.75"/><rect x="43.95" y="482.79" width="0.8" height="0.8" fill="#fff" opacity="0.65"/><rect x="41.08" y="494.86" width="0.8" height="0.8" fill="#fff" opacity="0.76"/><rect x="42.96" y="481.23" width="0.8" height="0.8" fill="#fff" opacity="0.74"/><rect x="44.59" y="479.04" width="0.8" height="0.8" fill="#fff" opacity="0.88"/><rect x="46.05" y="479.35" width="0.8" height="0.8" fill="#fff" opacity="0.91"/><rect x="55.01" y="491.15" width="0.8" height="0.8" fill="#fff" opacity="0.78"/><rect x="39.44" y="477.15" width="0.8" height="0.8" fill="#fff" opacity="0.74"/><rect x="40.57" y="486.35" width="0.8" height="0.8" fill="#fff" opacity="0.46"/><rect x="61.50" y="489.66" width="0.8" height="0.8" fill="#fff" opacity="0.80"/><rect x="35.94" y="480.31" width="0.8" height="0.8" fill="#fff" opacity="0.57"/><rect x="48.21" y="493.86" width="0.8" height="0.8" fill="#fff" opacity="0.87"/><rect x="60.17" y="486.97" width="0.8" height="0.8" fill="#fff" opacity="0.50"/><rect x="50.33" y="474.54" width="0.8" height="0.8" fill="#fff" opacity="0.55"/><rect x="39.53" y="490.72" width="0.8" height="0.8" fill="#fff" opacity="0.81"/><rect x="40.33" y="495.76" width="0.8" height="0.8" fill="#fff" opacity="0.42"/><rect x="48.55" y="489.01" width="0.8" height="0.8" fill="#fff" opacity="0.42"/><rect x="51.67" y="470.58" width="0.8" height="0.8" fill="#fff" opacity="0.46"/><rect x="53.05" y="493.59" width="0.8" height="0.8" fill="#fff" opacity="0.80"/><rect x="54.76" y="471.32" width="0.8" height="0.8" fill="#fff" opacity="0.71"/><rect x="55.32" y="492.04" width="0.8" height="0.8" fill="#fff" opacity="0.47"/><rect x="37.31" y="481.92" width="0.8" height="0.8" fill="#fff" opacity="0.47"/><rect x="49.19" y="498.15" width="0.8" height="0.8" fill="#fff" opacity="0.37"/><rect x="54.15" y="469.73" width="0.8" height="0.8" fill="#fff" opacity="0.92"/><rect x="40.37" y="491.97" width="0.8" height="0.8" fill="#fff" opacity="0.70"/><rect x="38.64" y="472.22" width="0.8" height="0.8" fill="#fff" opacity="0.76"/><rect x="44.67" y="498.13" width="0.8" height="0.8" fill="#fff" opacity="0.64"/><rect x="38.23" y="475.89" width="0.8" height="0.8" fill="#fff" opacity="0.35"/><rect x="50.87" y="471.09" width="0.8" height="0.8" fill="#fff" opacity="0.65"/><rect x="38.46" y="482.39" width="0.8" height="0.8" fill="#fff" opacity="0.47"/><rect x="46.17" y="483.43" width="0.8" height="0.8" fill="#fff" opacity="0.65"/><rect x="42.71" y="475.53" width="0.8" height="0.8" fill="#fff" opacity="0.69"/><rect x="63.82" y="480.15" width="0.8" height="0.8" fill="#fff" opacity="0.43"/><rect x="52.52" y="471.81" width="0.8" height="0.8" fill="#fff" opacity="0.38"/><rect x="44.27" y="489.96" width="0.8" height="0.8" fill="#fff" opacity="0.40"/><rect x="34.23" y="480.27" width="0.8" height="0.8" fill="#fff" opacity="0.54"/><rect x="58.36" y="474.31" width="0.8" height="0.8" fill="#fff" opacity="0.43"/><rect x="57.01" y="474.35" width="0.8" height="0.8" fill="#fff" opacity="0.91"/><rect x="46.28" y="470.55" width="0.8" height="0.8" fill="#fff" opacity="0.56"/><rect x="54.59" y="469.52" width="0.8" height="0.8" fill="#fff" opacity="0.87"/><rect x="36.35" y="489.37" width="0.8" height="0.8" fill="#fff" opacity="0.64"/><rect x="51.76" y="486.09" width="0.8" height="0.8" fill="#fff" opacity="0.40"/><rect x="51.17" y="490.11" width="0.8" height="0.8" fill="#fff" opacity="0.65"/><rect x="45.52" y="472.86" width="0.8" height="0.8" fill="#fff" opacity="0.60"/><rect x="43.97" y="476.88" width="0.8" height="0.8" fill="#fff" opacity="0.63"/><rect x="49.65" y="473.87" width="0.8" height="0.8" fill="#fff" opacity="0.46"/><rect x="60.16" y="475.98" width="0.8" height="0.8" fill="#fff" opacity="0.57"/><rect x="41.18" y="492.44" width="0.8" height="0.8" fill="#fff" opacity="0.71"/><rect x="49.34" y="484.82" width="0.8" height="0.8" fill="#fff" opacity="0.48"/><rect x="50.45" y="478.07" width="0.8" height="0.8" fill="#fff" opacity="0.63"/><rect x="51.67" y="490.89" width="0.8" height="0.8" fill="#fff" opacity="0.45"/><rect x="43.80" y="487.73" width="0.8" height="0.8" fill="#fff" opacity="0.37"/><rect x="54.26" y="488.19" width="0.8" height="0.8" fill="#fff" opacity="0.64"/><rect x="51.43" y="484.88" width="0.8" height="0.8" fill="#fff" opacity="0.62"/><rect x="37.97" y="491.35" width="0.8" height="0.8" fill="#fff" opacity="0.38"/><rect x="40.92" y="489.75" width="0.8" height="0.8" fill="#fff" opacity="0.37"/><rect x="56.51" y="482.39" width="0.8" height="0.8" fill="#fff" opacity="0.41"/><rect x="42.79" y="485.03" width="0.8" height="0.8" fill="#fff" opacity="0.72"/><rect x="45.99" y="488.63" width="0.8" height="0.8" fill="#fff" opacity="0.38"/><rect x="48.03" y="475.69" width="0.8" height="0.8" fill="#fff" opacity="0.82"/><rect x="34.10" y="487.33" width="0.8" height="0.8" fill="#fff" opacity="0.53"/><rect x="49.20" y="492.25" width="0.8" height="0.8" fill="#fff" opacity="0.84"/><rect x="42.73" y="477.19" width="0.8" height="0.8" fill="#fff" opacity="0.41"/><rect x="42.71" y="469.64" width="0.8" height="0.8" fill="#fff" opacity="0.71"/><rect x="51.99" y="484.06" width="0.8" height="0.8" fill="#fff" opacity="0.40"/><rect x="50.67" y="486.69" width="0.8" height="0.8" fill="#fff" opacity="0.38"/><rect x="40.61" y="471.48" width="0.8" height="0.8" fill="#fff" opacity="0.47"/><rect x="60.10" y="482.19" width="0.8" height="0.8" fill="#fff" opacity="0.83"/><rect x="62.67" y="476.30" width="0.8" height="0.8" fill="#fff" opacity="0.37"/><rect x="45.00" y="495.74" width="0.8" height="0.8" fill="#fff" opacity="0.92"/><rect x="56.58" y="488.54" width="0.8" height="0.8" fill="#fff" opacity="0.86"/><rect x="56.71" y="490.59" width="0.8" height="0.8" fill="#fff" opacity="0.55"/><rect x="42.64" y="470.04" width="0.8" height="0.8" fill="#fff" opacity="0.45"/><rect x="48.32" y="470.32" width="0.8" height="0.8" fill="#fff" opacity="0.85"/><rect x="34.67" y="478.94" width="0.8" height="0.8" fill="#fff" opacity="0.57"/><rect x="42.61" y="487.91" width="0.8" height="0.8" fill="#fff" opacity="0.82"/><rect x="40.95" y="485.01" width="0.8" height="0.8" fill="#fff" opacity="0.45"/><rect x="46.91" y="471.76" width="0.8" height="0.8" fill="#fff" opacity="0.78"/><rect x="40.74" y="491.29" width="0.8" height="0.8" fill="#fff" opacity="0.44"/><rect x="48.61" y="481.65" width="0.8" height="0.8" fill="#fff" opacity="0.63"/><rect x="49.90" y="470.85" width="0.8" height="0.8" fill="#fff" opacity="0.41"/><rect x="50.38" y="498.65" width="0.8" height="0.8" fill="#fff" opacity="0.74"/><rect x="60.00" y="473.67" width="0.8" height="0.8" fill="#fff" opacity="0.62"/><rect x="60.13" y="475.73" width="0.8" height="0.8" fill="#fff" opacity="0.55"/><rect x="46.26" y="487.13" width="0.8" height="0.8" fill="#fff" opacity="0.59"/><rect x="54.19" y="482.57" width="0.8" height="0.8" fill="#fff" opacity="0.69"/><rect x="52.70" y="486.90" width="0.8" height="0.8" fill="#fff" opacity="0.74"/><rect x="49.41" y="487.53" width="0.8" height="0.8" fill="#fff" opacity="0.44"/><rect x="41.67" y="474.34" width="0.8" height="0.8" fill="#fff" opacity="0.36"/><rect x="51.18" y="499.62" width="0.8" height="0.8" fill="#fff" opacity="0.48"/><rect x="39.62" y="480.04" width="0.8" height="0.8" fill="#fff" opacity="0.82"/><rect x="37.93" y="475.33" width="0.8" height="0.8" fill="#fff" opacity="0.67"/><rect x="51.76" y="490.24" width="0.8" height="0.8" fill="#fff" opacity="0.40"/><rect x="51.65" y="479.22" width="0.8" height="0.8" fill="#fff" opacity="0.36"/><rect x="56.19" y="482.50" width="0.8" height="0.8" fill="#fff" opacity="0.89"/><rect x="58.57" y="489.60" width="0.8" height="0.8" fill="#fff" opacity="0.48"/><rect x="55.21" y="472.98" width="0.8" height="0.8" fill="#fff" opacity="0.74"/><rect x="50.27" y="469.10" width="0.8" height="0.8" fill="#fff" opacity="0.56"/><rect x="40.68" y="477.55" width="0.8" height="0.8" fill="#fff" opacity="0.42"/><rect x="55.51" y="473.39" width="0.8" height="0.8" fill="#fff" opacity="0.84"/><rect x="52.41" y="495.31" width="0.8" height="0.8" fill="#fff" opacity="0.63"/><rect x="48.59" y="479.59" width="0.8" height="0.8" fill="#fff" opacity="0.56"/><rect x="44.94" y="484.42" width="0.8" height="0.8" fill="#fff" opacity="0.68"/><rect x="48.24" y="473.64" width="0.8" height="0.8" fill="#fff" opacity="0.74"/><rect x="43.37" y="479.43" width="0.8" height="0.8" fill="#fff" opacity="0.56"/><rect x="58.46" y="483.75" width="0.8" height="0.8" fill="#fff" opacity="0.61"/><rect x="55.65" y="487.77" width="0.8" height="0.8" fill="#fff" opacity="0.45"/><rect x="61.58" y="478.26" width="0.8" height="0.8" fill="#fff" opacity="0.87"/><rect x="61.68" y="482.94" width="0.8" height="0.8" fill="#fff" opacity="0.91"/><rect x="39.10" y="481.70" width="0.8" height="0.8" fill="#fff" opacity="0.92"/><rect x="61.99" y="475.08" width="0.8" height="0.8" fill="#fff" opacity="0.64"/><rect x="50.70" y="473.90" width="0.8" height="0.8" fill="#fff" opacity="0.95"/><rect x="56.79" y="479.85" width="0.8" height="0.8" fill="#fff" opacity="0.91"/><rect x="51.18" y="488.54" width="0.8" height="0.8" fill="#fff" opacity="0.78"/><rect x="46.03" y="495.09" width="0.8" height="0.8" fill="#fff" opacity="0.73"/><rect x="62.57" y="487.48" width="0.8" height="0.8" fill="#fff" opacity="0.52"/><rect x="40.64" y="487.87" width="0.8" height="0.8" fill="#fff" opacity="0.80"/><rect x="49.03" y="475.42" width="0.8" height="0.8" fill="#fff" opacity="0.41"/><rect x="46.07" y="493.77" width="0.8" height="0.8" fill="#fff" opacity="0.40"/><rect x="57.19" y="495.47" width="0.8" height="0.8" fill="#fff" opacity="0.77"/><rect x="64.87" y="481.66" width="0.8" height="0.8" fill="#fff" opacity="0.88"/><rect x="44.72" y="488.61" width="0.8" height="0.8" fill="#fff" opacity="0.54"/><rect x="37.90" y="486.66" width="0.8" height="0.8" fill="#fff" opacity="0.68"/><rect x="39.80" y="495.40" width="0.8" height="0.8" fill="#fff" opacity="0.52"/><rect x="34.53" y="487.46" width="0.8" height="0.8" fill="#fff" opacity="0.83"/><rect x="46.89" y="491.54" width="0.8" height="0.8" fill="#fff" opacity="0.83"/><rect x="54.99" y="484.37" width="0.8" height="0.8" fill="#fff" opacity="0.67"/><rect x="42.85" y="482.55" width="0.8" height="0.8" fill="#fff" opacity="0.38"/><rect x="53.21" y="497.46" width="0.8" height="0.8" fill="#fff" opacity="0.63"/><rect x="63.27" y="482.16" width="0.8" height="0.8" fill="#fff" opacity="0.94"/><rect x="55.92" y="485.51" width="0.8" height="0.8" fill="#fff" opacity="0.36"/><rect x="40.72" y="487.84" width="0.8" height="0.8" fill="#fff" opacity="0.38"/><rect x="44.50" y="482.60" width="0.8" height="0.8" fill="#fff" opacity="0.54"/><rect x="49.45" y="498.33" width="0.8" height="0.8" fill="#fff" opacity="0.60"/><rect x="48.98" y="487.35" width="0.8" height="0.8" fill="#fff" opacity="0.61"/><rect x="40.05" y="474.56" width="0.8" height="0.8" fill="#fff" opacity="0.90"/><rect x="52.06" y="476.57" width="0.8" height="0.8" fill="#fff" opacity="0.43"/><rect x="49.94" y="469.80" width="0.8" height="0.8" fill="#fff" opacity="0.66"/><rect x="54.99" y="473.62" width="0.8" height="0.8" fill="#fff" opacity="0.52"/><rect x="50.22" y="485.82" width="0.8" height="0.8" fill="#fff" opacity="0.74"/><rect x="61.35" y="474.81" width="0.8" height="0.8" fill="#fff" opacity="0.63"/><rect x="41.39" y="470.70" width="0.8" height="0.8" fill="#fff" opacity="0.84"/><rect x="40.97" y="477.81" width="0.8" height="0.8" fill="#fff" opacity="0.66"/><rect x="52.47" y="490.02" width="0.8" height="0.8" fill="#fff" opacity="0.76"/><rect x="61.02" y="483.41" width="0.8" height="0.8" fill="#fff" opacity="0.59"/><rect x="42.75" y="492.66" width="0.8" height="0.8" fill="#fff" opacity="0.83"/><rect x="34.22" y="488.61" width="0.8" height="0.8" fill="#fff" opacity="0.44"/><rect x="44.61" y="494.62" width="0.8" height="0.8" fill="#fff" opacity="0.60"/><rect x="57.84" y="472.28" width="0.8" height="0.8" fill="#fff" opacity="0.91"/><rect x="47.07" y="482.18" width="0.8" height="0.8" fill="#fff" opacity="0.69"/><rect x="38.57" y="480.56" width="0.8" height="0.8" fill="#fff" opacity="0.52"/><rect x="45.34" y="469.21" width="0.8" height="0.8" fill="#fff" opacity="0.41"/><rect x="44.43" y="475.49" width="0.8" height="0.8" fill="#fff" opacity="0.66"/><rect x="61.64" y="474.44" width="0.8" height="0.8" fill="#fff" opacity="0.74"/><rect x="54.39" y="498.45" width="0.8" height="0.8" fill="#fff" opacity="0.46"/><rect x="38.38" y="493.75" width="0.8" height="0.8" fill="#fff" opacity="0.54"/><rect x="47.16" y="499.46" width="0.8" height="0.8" fill="#fff" opacity="0.92"/><rect x="45.08" y="493.14" width="0.8" height="0.8" fill="#fff" opacity="0.52"/><rect x="54.62" y="489.89" width="0.8" height="0.8" fill="#fff" opacity="0.94"/><rect x="55.94" y="487.66" width="0.8" height="0.8" fill="#fff" opacity="0.47"/><rect x="59.39" y="489.56" width="0.8" height="0.8" fill="#fff" opacity="0.80"/><rect x="55.90" y="473.19" width="0.8" height="0.8" fill="#fff" opacity="0.84"/><rect x="57.70" y="484.29" width="0.8" height="0.8" fill="#fff" opacity="0.93"/><rect x="56.71" y="487.50" width="0.8" height="0.8" fill="#fff" opacity="0.64"/><rect x="47.88" y="495.75" width="0.8" height="0.8" fill="#fff" opacity="0.38"/><rect x="50.58" y="499.60" width="0.8" height="0.8" fill="#fff" opacity="0.44"/><rect x="54.80" y="480.22" width="0.8" height="0.8" fill="#fff" opacity="0.95"/><rect x="43.33" y="472.54" width="0.8" height="0.8" fill="#fff" opacity="0.44"/><rect x="62.34" y="488.69" width="0.8" height="0.8" fill="#fff" opacity="0.46"/><rect x="54.58" y="497.48" width="0.8" height="0.8" fill="#fff" opacity="0.87"/><rect x="64.16" y="488.74" width="0.8" height="0.8" fill="#fff" opacity="0.67"/><rect x="45.33" y="487.53" width="0.8" height="0.8" fill="#fff" opacity="0.58"/><rect x="57.65" y="483.34" width="0.8" height="0.8" fill="#fff" opacity="0.43"/><rect x="52.69" y="488.51" width="0.8" height="0.8" fill="#fff" opacity="0.56"/><rect x="53.02" y="481.74" width="0.8" height="0.8" fill="#fff" opacity="0.47"/><rect x="64.03" y="478.05" width="0.8" height="0.8" fill="#fff" opacity="0.94"/><rect x="49.44" y="493.52" width="0.8" height="0.8" fill="#fff" opacity="0.92"/><rect x="35.84" y="485.26" width="0.8" height="0.8" fill="#fff" opacity="0.54"/><rect x="58.52" y="485.26" width="0.8" height="0.8" fill="#fff" opacity="0.80"/><rect x="51.61" y="472.17" width="0.8" height="0.8" fill="#fff" opacity="0.63"/><rect x="38.86" y="481.47" width="0.8" height="0.8" fill="#fff" opacity="0.67"/><rect x="52.77" y="477.79" width="0.8" height="0.8" fill="#fff" opacity="0.71"/><rect x="62.65" y="477.96" width="0.8" height="0.8" fill="#fff" opacity="0.46"/><rect x="63.48" y="480.66" width="0.8" height="0.8" fill="#fff" opacity="0.45"/><rect x="48.48" y="491.16" width="0.8" height="0.8" fill="#fff" opacity="0.38"/><rect x="59.34" y="482.61" width="0.8" height="0.8" fill="#fff" opacity="0.87"/><rect x="50.62" y="485.25" width="0.8" height="0.8" fill="#fff" opacity="0.87"/><rect x="53.55" y="468.67" width="0.8" height="0.8" fill="#fff" opacity="0.76"/><rect x="35.37" y="481.79" width="0.8" height="0.8" fill="#fff" opacity="0.41"/><rect x="38.91" y="481.33" width="0.8" height="0.8" fill="#fff" opacity="0.44"/><rect x="41.85" y="478.63" width="0.8" height="0.8" fill="#fff" opacity="0.65"/><rect x="42.88" y="490.44" width="0.8" height="0.8" fill="#fff" opacity="0.57"/><rect x="36.44" y="474.60" width="0.8" height="0.8" fill="#fff" opacity="0.91"/><rect x="58.68" y="472.86" width="0.8" height="0.8" fill="#fff" opacity="0.52"/><rect x="57.42" y="482.79" width="0.8" height="0.8" fill="#fff" opacity="0.42"/><rect x="35.50" y="483.93" width="0.8" height="0.8" fill="#fff" opacity="0.55"/><rect x="44.00" y="477.27" width="0.8" height="0.8" fill="#fff" opacity="0.93"/><rect x="38.62" y="487.23" width="0.8" height="0.8" fill="#fff" opacity="0.67"/><rect x="60.43" y="472.75" width="0.8" height="0.8" fill="#fff" opacity="0.67"/><rect x="37.46" y="488.52" width="0.8" height="0.8" fill="#fff" opacity="0.39"/><rect x="36.05" y="490.65" width="0.8" height="0.8" fill="#fff" opacity="0.82"/><rect x="62.98" y="489.39" width="0.8" height="0.8" fill="#fff" opacity="0.58"/><rect x="58.82" y="482.86" width="0.8" height="0.8" fill="#fff" opacity="0.48"/><rect x="34.85" y="479.47" width="0.8" height="0.8" fill="#fff" opacity="0.61"/><rect x="58.28" y="474.01" width="0.8" height="0.8" fill="#fff" opacity="0.57"/><rect x="45.64" y="494.81" width="0.8" height="0.8" fill="#fff" opacity="0.59"/><rect x="40.21" y="493.28" width="0.8" height="0.8" fill="#fff" opacity="0.88"/><rect x="43.92" y="480.90" width="0.8" height="0.8" fill="#fff" opacity="0.48"/><rect x="40.56" y="493.10" width="0.8" height="0.8" fill="#fff" opacity="0.43"/><rect x="57.10" y="488.44" width="0.8" height="0.8" fill="#fff" opacity="0.52"/><rect x="60.75" y="486.16" width="0.8" height="0.8" fill="#fff" opacity="0.90"/><rect x="35.78" y="481.06" width="0.8" height="0.8" fill="#fff" opacity="0.85"/><rect x="57.21" y="470.97" width="0.8" height="0.8" fill="#fff" opacity="0.61"/><rect x="46.91" y="478.93" width="0.8" height="0.8" fill="#fff" opacity="0.88"/><rect x="41.24" y="491.64" width="0.8" height="0.8" fill="#fff" opacity="0.88"/><rect x="47.60" y="490.79" width="0.8" height="0.8" fill="#fff" opacity="0.84"/><rect x="45.41" y="481.29" width="0.8" height="0.8" fill="#fff" opacity="0.37"/><rect x="48.38" y="485.11" width="0.8" height="0.8" fill="#fff" opacity="0.85"/><rect x="52.59" y="491.66" width="0.8" height="0.8" fill="#fff" opacity="0.58"/><rect x="38.70" y="483.23" width="0.8" height="0.8" fill="#fff" opacity="0.73"/><rect x="43.53" y="475.08" width="0.8" height="0.8" fill="#fff" opacity="0.41"/><rect x="62.39" y="482.26" width="0.8" height="0.8" fill="#fff" opacity="0.40"/><rect x="36.23" y="488.98" width="0.8" height="0.8" fill="#fff" opacity="0.95"/><rect x="50.63" y="484.63" width="0.8" height="0.8" fill="#fff" opacity="0.64"/><rect x="35.84" y="491.12" width="0.8" height="0.8" fill="#fff" opacity="0.85"/><rect x="44.12" y="493.03" width="0.8" height="0.8" fill="#fff" opacity="0.70"/><rect x="54.57" y="479.22" width="0.8" height="0.8" fill="#fff" opacity="0.59"/><rect x="60.09" y="490.76" width="0.8" height="0.8" fill="#fff" opacity="0.37"/><rect x="59.83" y="479.40" width="0.8" height="0.8" fill="#fff" opacity="0.69"/><rect x="55.83" y="487.94" width="0.8" height="0.8" fill="#fff" opacity="0.63"/><rect x="56.54" y="474.82" width="0.8" height="0.8" fill="#fff" opacity="0.52"/><rect x="62.13" y="482.54" width="0.8" height="0.8" fill="#fff" opacity="0.67"/><rect x="51.78" y="492.36" width="0.8" height="0.8" fill="#fff" opacity="0.89"/><rect x="57.03" y="492.65" width="0.8" height="0.8" fill="#fff" opacity="0.72"/><rect x="40.61" y="495.10" width="0.8" height="0.8" fill="#fff" opacity="0.90"/><rect x="57.80" y="473.27" width="0.8" height="0.8" fill="#fff" opacity="0.47"/><rect x="58.99" y="487.87" width="0.8" height="0.8" fill="#fff" opacity="0.54"/><rect x="54.36" y="498.02" width="0.8" height="0.8" fill="#fff" opacity="0.48"/><rect x="56.04" y="470.09" width="0.8" height="0.8" fill="#fff" opacity="0.42"/><rect x="57.84" y="478.79" width="0.8" height="0.8" fill="#fff" opacity="0.48"/><rect x="50.41" y="486.86" width="0.8" height="0.8" fill="#fff" opacity="0.65"/><rect x="38.16" y="493.81" width="0.8" height="0.8" fill="#fff" opacity="0.85"/><rect x="58.70" y="487.55" width="0.8" height="0.8" fill="#fff" opacity="0.58"/><rect x="52.72" y="491.20" width="0.8" height="0.8" fill="#fff" opacity="0.51"/><rect x="45.99" y="475.23" width="0.8" height="0.8" fill="#fff" opacity="0.42"/><rect x="51.17" y="494.46" width="0.8" height="0.8" fill="#fff" opacity="0.69"/><rect x="49.58" y="497.38" width="0.8" height="0.8" fill="#fff" opacity="0.48"/><rect x="43.24" y="473.02" width="0.8" height="0.8" fill="#fff" opacity="0.46"/><rect x="49.27" y="473.95" width="0.8" height="0.8" fill="#fff" opacity="0.67"/><rect x="38.83" y="476.69" width="0.8" height="0.8" fill="#fff" opacity="0.62"/><rect x="62.53" y="488.89" width="0.8" height="0.8" fill="#fff" opacity="0.87"/><rect x="37.04" y="484.75" width="0.8" height="0.8" fill="#fff" opacity="0.51"/><rect x="59.86" y="476.12" width="0.8" height="0.8" fill="#fff" opacity="0.48"/><rect x="55.74" y="469.51" width="0.8" height="0.8" fill="#fff" opacity="0.56"/><rect x="60.32" y="483.69" width="0.8" height="0.8" fill="#fff" opacity="0.46"/><rect x="47.28" y="474.88" width="0.8" height="0.8" fill="#fff" opacity="0.79"/><rect x="44.65" y="481.37" width="0.8" height="0.8" fill="#fff" opacity="0.67"/><rect x="55.75" y="475.08" width="0.8" height="0.8" fill="#fff" opacity="0.67"/><rect x="56.18" y="475.89" width="0.8" height="0.8" fill="#fff" opacity="0.65"/><rect x="36.60" y="476.78" width="0.8" height="0.8" fill="#fff" opacity="0.47"/><rect x="60.82" y="491.74" width="0.8" height="0.8" fill="#fff" opacity="0.68"/><rect x="44.28" y="498.29" width="0.8" height="0.8" fill="#fff" opacity="0.88"/><rect x="33.83" y="479.90" width="0.8" height="0.8" fill="#fff" opacity="0.85"/><rect x="49.09" y="475.36" width="0.8" height="0.8" fill="#fff" opacity="0.36"/><rect x="43.25" y="471.64" width="0.8" height="0.8" fill="#fff" opacity="0.56"/><rect x="37.25" y="485.60" width="0.8" height="0.8" fill="#fff" opacity="0.50"/><rect x="45.32" y="472.64" width="0.8" height="0.8" fill="#fff" opacity="0.58"/><rect x="58.40" y="491.57" width="0.8" height="0.8" fill="#fff" opacity="0.54"/><rect x="48.16" y="477.43" width="0.8" height="0.8" fill="#fff" opacity="0.59"/><rect x="52.59" y="493.65" width="0.8" height="0.8" fill="#fff" opacity="0.70"/><rect x="52.13" y="486.33" width="0.8" height="0.8" fill="#fff" opacity="0.64"/>
<circle cx="267.2" cy="486.7" r="25.6" fill="#fff" stroke="#6aa7a7" stroke-width="0.8"/>
<circle cx="264.5" cy="484.0" r="16.6" fill="#5a9d9d"/>
<rect x="267.93" y="494.92" width="0.8" height="0.8" fill="#fff" opacity="0.45"/><rect x="274.02" y="490.99" width="0.8" height="0.8" fill="#fff" opacity="0.90"/><rect x="272.34" y="475.50" width="0.8" height="0.8" fill="#fff" opacity="0.59"/><rect x="272.25" y="487.41" width="0.8" height="0.8" fill="#fff" opacity="0.54"/><rect x="269.64" y="482.02" width="0.8" height="0.8" fill="#fff" opacity="0.92"/><rect x="254.00" y="485.55" width="0.8" height="0.8" fill="#fff" opacity="0.51"/><rect x="271.25" y="482.38" width="0.8" height="0.8" fill="#fff" opacity="0.69"/><rect x="257.32" y="483.51" width="0.8" height="0.8" fill="#fff" opacity="0.48"/><rect x="278.76" y="482.69" width="0.8" height="0.8" fill="#fff" opacity="0.79"/><rect x="268.64" y="481.10" width="0.8" height="0.8" fill="#fff" opacity="0.77"/><rect x="264.52" y="476.36" width="0.8" height="0.8" fill="#fff" opacity="0.62"/><rect x="273.59" y="482.53" width="0.8" height="0.8" fill="#fff" opacity="0.81"/><rect x="271.18" y="495.33" width="0.8" height="0.8" fill="#fff" opacity="0.51"/><rect x="254.69" y="483.46" width="0.8" height="0.8" fill="#fff" opacity="0.87"/><rect x="264.13" y="472.57" width="0.8" height="0.8" fill="#fff" opacity="0.76"/><rect x="251.53" y="490.34" width="0.8" height="0.8" fill="#fff" opacity="0.50"/><rect x="252.65" y="480.63" width="0.8" height="0.8" fill="#fff" opacity="0.58"/><rect x="270.86" y="485.92" width="0.8" height="0.8" fill="#fff" opacity="0.73"/><rect x="267.87" y="497.61" width="0.8" height="0.8" fill="#fff" opacity="0.65"/><rect x="278.69" y="479.70" width="0.8" height="0.8" fill="#fff" opacity="0.79"/><rect x="262.16" y="486.41" width="0.8" height="0.8" fill="#fff" opacity="0.68"/><rect x="264.08" y="468.55" width="0.8" height="0.8" fill="#fff" opacity="0.47"/><rect x="273.17" y="497.38" width="0.8" height="0.8" fill="#fff" opacity="0.79"/><rect x="250.73" y="485.34" width="0.8" height="0.8" fill="#fff" opacity="0.44"/><rect x="251.83" y="480.40" width="0.8" height="0.8" fill="#fff" opacity="0.71"/><rect x="267.65" y="489.05" width="0.8" height="0.8" fill="#fff" opacity="0.72"/><rect x="268.97" y="480.02" width="0.8" height="0.8" fill="#fff" opacity="0.35"/><rect x="276.88" y="491.09" width="0.8" height="0.8" fill="#fff" opacity="0.58"/><rect x="249.06" y="488.40" width="0.8" height="0.8" fill="#fff" opacity="0.72"/><rect x="263.37" y="497.43" width="0.8" height="0.8" fill="#fff" opacity="0.35"/><rect x="261.85" y="497.20" width="0.8" height="0.8" fill="#fff" opacity="0.45"/><rect x="275.85" y="486.36" width="0.8" height="0.8" fill="#fff" opacity="0.55"/><rect x="269.55" y="483.08" width="0.8" height="0.8" fill="#fff" opacity="0.83"/><rect x="253.45" y="493.32" width="0.8" height="0.8" fill="#fff" opacity="0.62"/><rect x="259.94" y="476.01" width="0.8" height="0.8" fill="#fff" opacity="0.48"/><rect x="250.73" y="488.24" width="0.8" height="0.8" fill="#fff" opacity="0.56"/><rect x="265.81" y="494.30" width="0.8" height="0.8" fill="#fff" opacity="0.41"/><rect x="259.61" y="495.16" width="0.8" height="0.8" fill="#fff" opacity="0.68"/><rect x="257.40" y="479.02" width="0.8" height="0.8" fill="#fff" opacity="0.36"/><rect x="273.75" y="485.55" width="0.8" height="0.8" fill="#fff" opacity="0.47"/><rect x="256.97" y="480.52" width="0.8" height="0.8" fill="#fff" opacity="0.81"/><rect x="253.97" y="476.21" width="0.8" height="0.8" fill="#fff" opacity="0.79"/><rect x="254.08" y="482.58" width="0.8" height="0.8" fill="#fff" opacity="0.54"/><rect x="277.74" y="489.53" width="0.8" height="0.8" fill="#fff" opacity="0.65"/><rect x="277.06" y="493.09" width="0.8" height="0.8" fill="#fff" opacity="0.70"/><rect x="256.89" y="476.53" width="0.8" height="0.8" fill="#fff" opacity="0.43"/><rect x="271.10" y="483.98" width="0.8" height="0.8" fill="#fff" opacity="0.57"/><rect x="270.13" y="483.98" width="0.8" height="0.8" fill="#fff" opacity="0.65"/><rect x="256.55" y="485.02" width="0.8" height="0.8" fill="#fff" opacity="0.90"/><rect x="263.01" y="484.89" width="0.8" height="0.8" fill="#fff" opacity="0.63"/><rect x="278.05" y="484.40" width="0.8" height="0.8" fill="#fff" opacity="0.87"/><rect x="267.42" y="482.03" width="0.8" height="0.8" fill="#fff" opacity="0.76"/><rect x="260.77" y="494.42" width="0.8" height="0.8" fill="#fff" opacity="0.53"/><rect x="262.51" y="489.52" width="0.8" height="0.8" fill="#fff" opacity="0.73"/><rect x="277.93" y="492.35" width="0.8" height="0.8" fill="#fff" opacity="0.38"/><rect x="271.37" y="482.42" width="0.8" height="0.8" fill="#fff" opacity="0.40"/><rect x="264.12" y="472.27" width="0.8" height="0.8" fill="#fff" opacity="0.81"/><rect x="251.73" y="483.32" width="0.8" height="0.8" fill="#fff" opacity="0.40"/><rect x="259.19" y="473.77" width="0.8" height="0.8" fill="#fff" opacity="0.93"/><rect x="268.71" y="484.16" width="0.8" height="0.8" fill="#fff" opacity="0.76"/><rect x="273.85" y="479.32" width="0.8" height="0.8" fill="#fff" opacity="0.78"/><rect x="255.15" y="480.26" width="0.8" height="0.8" fill="#fff" opacity="0.63"/><rect x="262.30" y="482.37" width="0.8" height="0.8" fill="#fff" opacity="0.53"/><rect x="263.89" y="475.84" width="0.8" height="0.8" fill="#fff" opacity="0.63"/><rect x="264.09" y="493.62" width="0.8" height="0.8" fill="#fff" opacity="0.74"/><rect x="263.88" y="468.26" width="0.8" height="0.8" fill="#fff" opacity="0.64"/><rect x="267.23" y="492.94" width="0.8" height="0.8" fill="#fff" opacity="0.39"/><rect x="265.31" y="496.28" width="0.8" height="0.8" fill="#fff" opacity="0.72"/><rect x="264.87" y="490.85" width="0.8" height="0.8" fill="#fff" opacity="0.41"/><rect x="269.44" y="494.27" width="0.8" height="0.8" fill="#fff" opacity="0.50"/><rect x="273.51" y="475.92" width="0.8" height="0.8" fill="#fff" opacity="0.55"/><rect x="261.58" y="485.35" width="0.8" height="0.8" fill="#fff" opacity="0.79"/><rect x="264.57" y="474.29" width="0.8" height="0.8" fill="#fff" opacity="0.79"/><rect x="263.44" y="491.47" width="0.8" height="0.8" fill="#fff" opacity="0.49"/><rect x="268.62" y="495.84" width="0.8" height="0.8" fill="#fff" opacity="0.74"/><rect x="263.78" y="478.86" width="0.8" height="0.8" fill="#fff" opacity="0.81"/><rect x="254.69" y="485.35" width="0.8" height="0.8" fill="#fff" opacity="0.65"/><rect x="257.93" y="486.95" width="0.8" height="0.8" fill="#fff" opacity="0.59"/><rect x="256.23" y="473.18" width="0.8" height="0.8" fill="#fff" opacity="0.90"/><rect x="269.70" y="498.28" width="0.8" height="0.8" fill="#fff" opacity="0.83"/><rect x="260.83" y="468.49" width="0.8" height="0.8" fill="#fff" opacity="0.43"/><rect x="267.04" y="468.94" width="0.8" height="0.8" fill="#fff" opacity="0.42"/><rect x="251.52" y="475.22" width="0.8" height="0.8" fill="#fff" opacity="0.53"/><rect x="273.92" y="471.90" width="0.8" height="0.8" fill="#fff" opacity="0.61"/><rect x="269.07" y="489.91" width="0.8" height="0.8" fill="#fff" opacity="0.85"/><rect x="256.51" y="488.25" width="0.8" height="0.8" fill="#fff" opacity="0.62"/><rect x="271.80" y="480.46" width="0.8" height="0.8" fill="#fff" opacity="0.36"/><rect x="273.11" y="481.16" width="0.8" height="0.8" fill="#fff" opacity="0.58"/><rect x="272.95" y="482.71" width="0.8" height="0.8" fill="#fff" opacity="0.40"/><rect x="270.55" y="478.84" width="0.8" height="0.8" fill="#fff" opacity="0.48"/><rect x="271.63" y="481.06" width="0.8" height="0.8" fill="#fff" opacity="0.89"/><rect x="260.08" y="491.69" width="0.8" height="0.8" fill="#fff" opacity="0.48"/><rect x="252.87" y="480.83" width="0.8" height="0.8" fill="#fff" opacity="0.59"/><rect x="255.72" y="483.59" width="0.8" height="0.8" fill="#fff" opacity="0.85"/><rect x="277.28" y="478.36" width="0.8" height="0.8" fill="#fff" opacity="0.84"/><rect x="271.77" y="487.46" width="0.8" height="0.8" fill="#fff" opacity="0.47"/><rect x="273.42" y="497.10" width="0.8" height="0.8" fill="#fff" opacity="0.89"/><rect x="274.82" y="477.82" width="0.8" height="0.8" fill="#fff" opacity="0.42"/><rect x="261.08" y="485.69" width="0.8" height="0.8" fill="#fff" opacity="0.89"/><rect x="263.66" y="492.60" width="0.8" height="0.8" fill="#fff" opacity="0.92"/><rect x="269.23" y="498.72" width="0.8" height="0.8" fill="#fff" opacity="0.54"/><rect x="261.82" y="479.48" width="0.8" height="0.8" fill="#fff" opacity="0.89"/><rect x="256.90" y="489.63" width="0.8" height="0.8" fill="#fff" opacity="0.74"/><rect x="257.78" y="479.53" width="0.8" height="0.8" fill="#fff" opacity="0.42"/><rect x="262.25" y="482.85" width="0.8" height="0.8" fill="#fff" opacity="0.87"/><rect x="260.82" y="489.51" width="0.8" height="0.8" fill="#fff" opacity="0.55"/><rect x="271.34" y="489.94" width="0.8" height="0.8" fill="#fff" opacity="0.68"/><rect x="256.74" y="489.14" width="0.8" height="0.8" fill="#fff" opacity="0.52"/><rect x="250.34" y="485.20" width="0.8" height="0.8" fill="#fff" opacity="0.61"/><rect x="265.76" y="472.88" width="0.8" height="0.8" fill="#fff" opacity="0.42"/><rect x="271.62" y="497.00" width="0.8" height="0.8" fill="#fff" opacity="0.64"/><rect x="255.95" y="491.79" width="0.8" height="0.8" fill="#fff" opacity="0.86"/><rect x="257.64" y="490.83" width="0.8" height="0.8" fill="#fff" opacity="0.57"/><rect x="276.36" y="484.81" width="0.8" height="0.8" fill="#fff" opacity="0.64"/><rect x="253.68" y="484.29" width="0.8" height="0.8" fill="#fff" opacity="0.63"/><rect x="263.00" y="477.22" width="0.8" height="0.8" fill="#fff" opacity="0.94"/><rect x="275.76" y="493.89" width="0.8" height="0.8" fill="#fff" opacity="0.46"/><rect x="266.80" y="476.11" width="0.8" height="0.8" fill="#fff" opacity="0.40"/><rect x="250.23" y="480.27" width="0.8" height="0.8" fill="#fff" opacity="0.86"/><rect x="275.91" y="472.87" width="0.8" height="0.8" fill="#fff" opacity="0.38"/><rect x="260.68" y="487.63" width="0.8" height="0.8" fill="#fff" opacity="0.80"/><rect x="251.25" y="488.17" width="0.8" height="0.8" fill="#fff" opacity="0.83"/><rect x="277.75" y="483.92" width="0.8" height="0.8" fill="#fff" opacity="0.88"/><rect x="260.14" y="482.63" width="0.8" height="0.8" fill="#fff" opacity="0.88"/><rect x="268.46" y="486.55" width="0.8" height="0.8" fill="#fff" opacity="0.85"/><rect x="262.00" y="496.86" width="0.8" height="0.8" fill="#fff" opacity="0.37"/><rect x="267.82" y="497.21" width="0.8" height="0.8" fill="#fff" opacity="0.37"/><rect x="248.94" y="482.96" width="0.8" height="0.8" fill="#fff" opacity="0.48"/><rect x="260.61" y="470.67" width="0.8" height="0.8" fill="#fff" opacity="0.72"/><rect x="265.88" y="470.62" width="0.8" height="0.8" fill="#fff" opacity="0.36"/><rect x="268.72" y="495.01" width="0.8" height="0.8" fill="#fff" opacity="0.93"/><rect x="267.04" y="496.07" width="0.8" height="0.8" fill="#fff" opacity="0.43"/><rect x="270.64" y="475.18" width="0.8" height="0.8" fill="#fff" opacity="0.66"/><rect x="261.61" y="478.80" width="0.8" height="0.8" fill="#fff" opacity="0.79"/><rect x="269.10" y="469.80" width="0.8" height="0.8" fill="#fff" opacity="0.52"/><rect x="265.14" y="490.51" width="0.8" height="0.8" fill="#fff" opacity="0.89"/><rect x="255.20" y="487.82" width="0.8" height="0.8" fill="#fff" opacity="0.66"/><rect x="261.61" y="475.39" width="0.8" height="0.8" fill="#fff" opacity="0.55"/><rect x="265.94" y="469.88" width="0.8" height="0.8" fill="#fff" opacity="0.53"/><rect x="278.38" y="490.93" width="0.8" height="0.8" fill="#fff" opacity="0.79"/><rect x="256.00" y="478.28" width="0.8" height="0.8" fill="#fff" opacity="0.93"/><rect x="257.71" y="487.16" width="0.8" height="0.8" fill="#fff" opacity="0.41"/><rect x="257.10" y="494.05" width="0.8" height="0.8" fill="#fff" opacity="0.57"/><rect x="276.77" y="479.77" width="0.8" height="0.8" fill="#fff" opacity="0.62"/><rect x="257.83" y="473.44" width="0.8" height="0.8" fill="#fff" opacity="0.72"/><rect x="252.86" y="484.35" width="0.8" height="0.8" fill="#fff" opacity="0.64"/><rect x="267.95" y="477.85" width="0.8" height="0.8" fill="#fff" opacity="0.82"/><rect x="260.07" y="498.16" width="0.8" height="0.8" fill="#fff" opacity="0.39"/><rect x="253.83" y="485.01" width="0.8" height="0.8" fill="#fff" opacity="0.78"/><rect x="266.93" y="491.88" width="0.8" height="0.8" fill="#fff" opacity="0.43"/><rect x="253.17" y="479.40" width="0.8" height="0.8" fill="#fff" opacity="0.35"/><rect x="267.65" y="490.47" width="0.8" height="0.8" fill="#fff" opacity="0.92"/><rect x="252.87" y="487.38" width="0.8" height="0.8" fill="#fff" opacity="0.52"/><rect x="256.70" y="471.76" width="0.8" height="0.8" fill="#fff" opacity="0.75"/><rect x="275.17" y="484.10" width="0.8" height="0.8" fill="#fff" opacity="0.64"/><rect x="278.25" y="487.95" width="0.8" height="0.8" fill="#fff" opacity="0.54"/><rect x="261.07" y="496.26" width="0.8" height="0.8" fill="#fff" opacity="0.70"/><rect x="249.58" y="484.33" width="0.8" height="0.8" fill="#fff" opacity="0.66"/><rect x="262.24" y="487.41" width="0.8" height="0.8" fill="#fff" opacity="0.68"/><rect x="256.78" y="492.92" width="0.8" height="0.8" fill="#fff" opacity="0.56"/><rect x="267.63" y="484.14" width="0.8" height="0.8" fill="#fff" opacity="0.44"/><rect x="276.84" y="492.27" width="0.8" height="0.8" fill="#fff" opacity="0.70"/><rect x="265.48" y="497.54" width="0.8" height="0.8" fill="#fff" opacity="0.73"/><rect x="277.41" y="489.30" width="0.8" height="0.8" fill="#fff" opacity="0.49"/><rect x="270.56" y="483.90" width="0.8" height="0.8" fill="#fff" opacity="0.52"/><rect x="264.58" y="498.95" width="0.8" height="0.8" fill="#fff" opacity="0.84"/><rect x="259.04" y="481.03" width="0.8" height="0.8" fill="#fff" opacity="0.61"/><rect x="263.35" y="480.30" width="0.8" height="0.8" fill="#fff" opacity="0.90"/><rect x="272.94" y="470.95" width="0.8" height="0.8" fill="#fff" opacity="0.77"/><rect x="252.75" y="473.29" width="0.8" height="0.8" fill="#fff" opacity="0.51"/><rect x="262.57" y="489.31" width="0.8" height="0.8" fill="#fff" opacity="0.46"/><rect x="265.99" y="479.26" width="0.8" height="0.8" fill="#fff" opacity="0.80"/><rect x="252.51" y="493.15" width="0.8" height="0.8" fill="#fff" opacity="0.81"/><rect x="258.78" y="470.35" width="0.8" height="0.8" fill="#fff" opacity="0.38"/><rect x="263.55" y="493.73" width="0.8" height="0.8" fill="#fff" opacity="0.61"/><rect x="257.25" y="470.75" width="0.8" height="0.8" fill="#fff" opacity="0.79"/><rect x="276.61" y="478.18" width="0.8" height="0.8" fill="#fff" opacity="0.56"/><rect x="250.59" y="483.31" width="0.8" height="0.8" fill="#fff" opacity="0.84"/><rect x="257.93" y="491.00" width="0.8" height="0.8" fill="#fff" opacity="0.72"/><rect x="266.55" y="498.99" width="0.8" height="0.8" fill="#fff" opacity="0.35"/><rect x="257.83" y="474.98" width="0.8" height="0.8" fill="#fff" opacity="0.47"/><rect x="254.47" y="479.27" width="0.8" height="0.8" fill="#fff" opacity="0.93"/><rect x="273.73" y="475.82" width="0.8" height="0.8" fill="#fff" opacity="0.87"/><rect x="269.37" y="479.63" width="0.8" height="0.8" fill="#fff" opacity="0.85"/><rect x="272.52" y="470.12" width="0.8" height="0.8" fill="#fff" opacity="0.81"/><rect x="258.80" y="488.59" width="0.8" height="0.8" fill="#fff" opacity="0.74"/><rect x="267.92" y="497.59" width="0.8" height="0.8" fill="#fff" opacity="0.69"/><rect x="268.91" y="475.46" width="0.8" height="0.8" fill="#fff" opacity="0.53"/><rect x="275.31" y="476.59" width="0.8" height="0.8" fill="#fff" opacity="0.58"/><rect x="254.64" y="480.05" width="0.8" height="0.8" fill="#fff" opacity="0.74"/><rect x="255.94" y="483.09" width="0.8" height="0.8" fill="#fff" opacity="0.94"/><rect x="275.04" y="474.74" width="0.8" height="0.8" fill="#fff" opacity="0.52"/><rect x="269.23" y="496.93" width="0.8" height="0.8" fill="#fff" opacity="0.84"/><rect x="260.23" y="477.91" width="0.8" height="0.8" fill="#fff" opacity="0.78"/><rect x="254.77" y="482.57" width="0.8" height="0.8" fill="#fff" opacity="0.70"/><rect x="252.20" y="488.10" width="0.8" height="0.8" fill="#fff" opacity="0.80"/><rect x="269.84" y="483.42" width="0.8" height="0.8" fill="#fff" opacity="0.69"/><rect x="276.79" y="479.61" width="0.8" height="0.8" fill="#fff" opacity="0.70"/><rect x="266.22" y="481.73" width="0.8" height="0.8" fill="#fff" opacity="0.83"/><rect x="255.70" y="475.40" width="0.8" height="0.8" fill="#fff" opacity="0.54"/><rect x="260.33" y="480.12" width="0.8" height="0.8" fill="#fff" opacity="0.67"/><rect x="263.74" y="499.52" width="0.8" height="0.8" fill="#fff" opacity="0.83"/><rect x="250.71" y="486.38" width="0.8" height="0.8" fill="#fff" opacity="0.58"/><rect x="258.10" y="483.04" width="0.8" height="0.8" fill="#fff" opacity="0.86"/><rect x="265.74" y="470.02" width="0.8" height="0.8" fill="#fff" opacity="0.40"/><rect x="265.25" y="482.40" width="0.8" height="0.8" fill="#fff" opacity="0.69"/><rect x="260.59" y="484.30" width="0.8" height="0.8" fill="#fff" opacity="0.60"/><rect x="274.15" y="475.71" width="0.8" height="0.8" fill="#fff" opacity="0.54"/><rect x="268.28" y="475.17" width="0.8" height="0.8" fill="#fff" opacity="0.89"/><rect x="260.86" y="486.62" width="0.8" height="0.8" fill="#fff" opacity="0.93"/><rect x="271.81" y="487.50" width="0.8" height="0.8" fill="#fff" opacity="0.81"/><rect x="273.40" y="491.86" width="0.8" height="0.8" fill="#fff" opacity="0.87"/><rect x="256.48" y="478.91" width="0.8" height="0.8" fill="#fff" opacity="0.80"/><rect x="270.10" y="473.10" width="0.8" height="0.8" fill="#fff" opacity="0.73"/><rect x="259.99" y="493.23" width="0.8" height="0.8" fill="#fff" opacity="0.95"/><rect x="265.15" y="483.88" width="0.8" height="0.8" fill="#fff" opacity="0.47"/><rect x="266.72" y="498.17" width="0.8" height="0.8" fill="#fff" opacity="0.47"/><rect x="271.34" y="496.32" width="0.8" height="0.8" fill="#fff" opacity="0.45"/><rect x="275.26" y="482.46" width="0.8" height="0.8" fill="#fff" opacity="0.89"/><rect x="267.61" y="477.36" width="0.8" height="0.8" fill="#fff" opacity="0.82"/><rect x="257.97" y="487.87" width="0.8" height="0.8" fill="#fff" opacity="0.38"/><rect x="261.00" y="472.46" width="0.8" height="0.8" fill="#fff" opacity="0.53"/><rect x="268.05" y="477.80" width="0.8" height="0.8" fill="#fff" opacity="0.62"/><rect x="272.63" y="488.97" width="0.8" height="0.8" fill="#fff" opacity="0.88"/><rect x="258.19" y="484.00" width="0.8" height="0.8" fill="#fff" opacity="0.49"/><rect x="259.27" y="477.32" width="0.8" height="0.8" fill="#fff" opacity="0.88"/><rect x="278.44" y="489.57" width="0.8" height="0.8" fill="#fff" opacity="0.72"/><rect x="268.70" y="475.39" width="0.8" height="0.8" fill="#fff" opacity="0.39"/><rect x="270.49" y="495.25" width="0.8" height="0.8" fill="#fff" opacity="0.37"/><rect x="275.46" y="493.09" width="0.8" height="0.8" fill="#fff" opacity="0.88"/><rect x="273.61" y="472.42" width="0.8" height="0.8" fill="#fff" opacity="0.68"/><rect x="274.03" y="474.51" width="0.8" height="0.8" fill="#fff" opacity="0.68"/><rect x="262.26" y="485.13" width="0.8" height="0.8" fill="#fff" opacity="0.40"/><rect x="264.52" y="494.93" width="0.8" height="0.8" fill="#fff" opacity="0.42"/><rect x="276.52" y="481.74" width="0.8" height="0.8" fill="#fff" opacity="0.79"/><rect x="270.48" y="479.22" width="0.8" height="0.8" fill="#fff" opacity="0.88"/><rect x="272.54" y="481.83" width="0.8" height="0.8" fill="#fff" opacity="0.43"/><rect x="269.20" y="469.56" width="0.8" height="0.8" fill="#fff" opacity="0.83"/><rect x="254.02" y="490.81" width="0.8" height="0.8" fill="#fff" opacity="0.42"/><rect x="265.51" y="494.37" width="0.8" height="0.8" fill="#fff" opacity="0.80"/><rect x="277.66" y="492.21" width="0.8" height="0.8" fill="#fff" opacity="0.37"/><rect x="272.20" y="482.52" width="0.8" height="0.8" fill="#fff" opacity="0.84"/><rect x="271.02" y="469.69" width="0.8" height="0.8" fill="#fff" opacity="0.63"/><rect x="261.75" y="475.74" width="0.8" height="0.8" fill="#fff" opacity="0.85"/><rect x="276.23" y="493.56" width="0.8" height="0.8" fill="#fff" opacity="0.71"/><rect x="278.96" y="489.92" width="0.8" height="0.8" fill="#fff" opacity="0.54"/><rect x="271.96" y="487.40" width="0.8" height="0.8" fill="#fff" opacity="0.37"/><rect x="261.85" y="497.31" width="0.8" height="0.8" fill="#fff" opacity="0.94"/><rect x="254.41" y="473.07" width="0.8" height="0.8" fill="#fff" opacity="0.84"/><rect x="262.31" y="474.26" width="0.8" height="0.8" fill="#fff" opacity="0.50"/><rect x="271.13" y="493.89" width="0.8" height="0.8" fill="#fff" opacity="0.47"/><rect x="263.92" y="474.90" width="0.8" height="0.8" fill="#fff" opacity="0.70"/><rect x="252.28" y="480.33" width="0.8" height="0.8" fill="#fff" opacity="0.44"/><rect x="263.97" y="497.35" width="0.8" height="0.8" fill="#fff" opacity="0.48"/><rect x="257.01" y="470.07" width="0.8" height="0.8" fill="#fff" opacity="0.58"/><rect x="276.76" y="480.99" width="0.8" height="0.8" fill="#fff" opacity="0.92"/><rect x="250.72" y="481.71" width="0.8" height="0.8" fill="#fff" opacity="0.76"/><rect x="268.41" y="494.91" width="0.8" height="0.8" fill="#fff" opacity="0.70"/><rect x="251.76" y="486.96" width="0.8" height="0.8" fill="#fff" opacity="0.90"/><rect x="268.55" y="470.06" width="0.8" height="0.8" fill="#fff" opacity="0.44"/><rect x="260.80" y="471.79" width="0.8" height="0.8" fill="#fff" opacity="0.91"/><rect x="271.19" y="484.11" width="0.8" height="0.8" fill="#fff" opacity="0.94"/><rect x="255.09" y="493.72" width="0.8" height="0.8" fill="#fff" opacity="0.71"/><rect x="255.95" y="490.38" width="0.8" height="0.8" fill="#fff" opacity="0.69"/><rect x="276.21" y="482.91" width="0.8" height="0.8" fill="#fff" opacity="0.82"/><rect x="260.02" y="496.83" width="0.8" height="0.8" fill="#fff" opacity="0.71"/><rect x="263.88" y="468.91" width="0.8" height="0.8" fill="#fff" opacity="0.40"/><rect x="276.81" y="481.42" width="0.8" height="0.8" fill="#fff" opacity="0.51"/><rect x="259.61" y="485.11" width="0.8" height="0.8" fill="#fff" opacity="0.49"/><rect x="271.62" y="472.43" width="0.8" height="0.8" fill="#fff" opacity="0.87"/><rect x="267.27" y="488.51" width="0.8" height="0.8" fill="#fff" opacity="0.58"/><rect x="250.93" y="484.36" width="0.8" height="0.8" fill="#fff" opacity="0.53"/><rect x="263.52" y="471.73" width="0.8" height="0.8" fill="#fff" opacity="0.52"/><rect x="265.53" y="479.75" width="0.8" height="0.8" fill="#fff" opacity="0.71"/><rect x="265.77" y="487.07" width="0.8" height="0.8" fill="#fff" opacity="0.64"/><rect x="252.00" y="482.43" width="0.8" height="0.8" fill="#fff" opacity="0.58"/><rect x="277.38" y="477.89" width="0.8" height="0.8" fill="#fff" opacity="0.44"/><rect x="280.27" y="484.47" width="0.8" height="0.8" fill="#fff" opacity="0.60"/><rect x="269.86" y="488.16" width="0.8" height="0.8" fill="#fff" opacity="0.77"/><rect x="268.88" y="492.81" width="0.8" height="0.8" fill="#fff" opacity="0.76"/><rect x="256.70" y="494.42" width="0.8" height="0.8" fill="#fff" opacity="0.92"/><rect x="267.90" y="471.70" width="0.8" height="0.8" fill="#fff" opacity="0.73"/><rect x="259.79" y="495.99" width="0.8" height="0.8" fill="#fff" opacity="0.74"/><rect x="254.86" y="478.14" width="0.8" height="0.8" fill="#fff" opacity="0.80"/><rect x="268.34" y="497.05" width="0.8" height="0.8" fill="#fff" opacity="0.94"/><rect x="272.38" y="485.81" width="0.8" height="0.8" fill="#fff" opacity="0.94"/><rect x="277.15" y="491.21" width="0.8" height="0.8" fill="#fff" opacity="0.70"/><rect x="276.08" y="489.41" width="0.8" height="0.8" fill="#fff" opacity="0.35"/><rect x="269.67" y="476.81" width="0.8" height="0.8" fill="#fff" opacity="0.90"/><rect x="269.26" y="480.43" width="0.8" height="0.8" fill="#fff" opacity="0.59"/><rect x="272.56" y="495.47" width="0.8" height="0.8" fill="#fff" opacity="0.41"/><rect x="269.41" y="486.45" width="0.8" height="0.8" fill="#fff" opacity="0.87"/><rect x="264.67" y="493.15" width="0.8" height="0.8" fill="#fff" opacity="0.62"/><rect x="254.69" y="480.69" width="0.8" height="0.8" fill="#fff" opacity="0.92"/><rect x="258.51" y="493.36" width="0.8" height="0.8" fill="#fff" opacity="0.87"/><rect x="264.77" y="490.71" width="0.8" height="0.8" fill="#fff" opacity="0.85"/><rect x="258.38" y="497.92" width="0.8" height="0.8" fill="#fff" opacity="0.84"/><rect x="258.02" y="490.65" width="0.8" height="0.8" fill="#fff" opacity="0.41"/><rect x="272.00" y="476.35" width="0.8" height="0.8" fill="#fff" opacity="0.56"/><rect x="267.91" y="490.85" width="0.8" height="0.8" fill="#fff" opacity="0.87"/><rect x="272.67" y="492.77" width="0.8" height="0.8" fill="#fff" opacity="0.72"/><rect x="253.18" y="482.54" width="0.8" height="0.8" fill="#fff" opacity="0.59"/><rect x="269.73" y="497.62" width="0.8" height="0.8" fill="#fff" opacity="0.89"/><rect x="257.07" y="480.84" width="0.8" height="0.8" fill="#fff" opacity="0.90"/><rect x="266.49" y="490.35" width="0.8" height="0.8" fill="#fff" opacity="0.73"/><rect x="270.46" y="473.38" width="0.8" height="0.8" fill="#fff" opacity="0.42"/><rect x="270.81" y="483.16" width="0.8" height="0.8" fill="#fff" opacity="0.56"/><rect x="278.79" y="482.95" width="0.8" height="0.8" fill="#fff" opacity="0.80"/><rect x="277.71" y="490.81" width="0.8" height="0.8" fill="#fff" opacity="0.59"/><rect x="278.77" y="484.96" width="0.8" height="0.8" fill="#fff" opacity="0.91"/><rect x="274.87" y="487.20" width="0.8" height="0.8" fill="#fff" opacity="0.89"/><rect x="260.11" y="491.70" width="0.8" height="0.8" fill="#fff" opacity="0.82"/><rect x="249.50" y="489.81" width="0.8" height="0.8" fill="#fff" opacity="0.86"/><rect x="273.04" y="473.49" width="0.8" height="0.8" fill="#fff" opacity="0.47"/><rect x="259.78" y="472.70" width="0.8" height="0.8" fill="#fff" opacity="0.64"/><rect x="256.37" y="480.39" width="0.8" height="0.8" fill="#fff" opacity="0.47"/><rect x="272.81" y="478.89" width="0.8" height="0.8" fill="#fff" opacity="0.41"/><rect x="275.88" y="482.30" width="0.8" height="0.8" fill="#fff" opacity="0.76"/><rect x="261.20" y="489.26" width="0.8" height="0.8" fill="#fff" opacity="0.55"/><rect x="268.72" y="476.71" width="0.8" height="0.8" fill="#fff" opacity="0.90"/><rect x="259.39" y="498.37" width="0.8" height="0.8" fill="#fff" opacity="0.46"/><rect x="259.08" y="486.00" width="0.8" height="0.8" fill="#fff" opacity="0.44"/><rect x="254.87" y="482.63" width="0.8" height="0.8" fill="#fff" opacity="0.67"/><rect x="266.38" y="492.77" width="0.8" height="0.8" fill="#fff" opacity="0.54"/><rect x="268.18" y="481.27" width="0.8" height="0.8" fill="#fff" opacity="0.60"/><rect x="271.93" y="474.35" width="0.8" height="0.8" fill="#fff" opacity="0.50"/><rect x="269.80" y="483.91" width="0.8" height="0.8" fill="#fff" opacity="0.43"/><rect x="275.11" y="485.14" width="0.8" height="0.8" fill="#fff" opacity="0.87"/><rect x="262.76" y="492.43" width="0.8" height="0.8" fill="#fff" opacity="0.83"/><rect x="266.37" y="484.99" width="0.8" height="0.8" fill="#fff" opacity="0.75"/><rect x="274.44" y="490.15" width="0.8" height="0.8" fill="#fff" opacity="0.44"/><rect x="252.58" y="475.14" width="0.8" height="0.8" fill="#fff" opacity="0.62"/><rect x="262.64" y="496.58" width="0.8" height="0.8" fill="#fff" opacity="0.77"/><rect x="271.89" y="486.76" width="0.8" height="0.8" fill="#fff" opacity="0.58"/><rect x="256.08" y="483.69" width="0.8" height="0.8" fill="#fff" opacity="0.74"/><rect x="263.98" y="499.31" width="0.8" height="0.8" fill="#fff" opacity="0.56"/><rect x="265.30" y="488.44" width="0.8" height="0.8" fill="#fff" opacity="0.43"/><rect x="267.75" y="498.78" width="0.8" height="0.8" fill="#fff" opacity="0.60"/><rect x="249.73" y="489.53" width="0.8" height="0.8" fill="#fff" opacity="0.93"/><rect x="265.28" y="476.15" width="0.8" height="0.8" fill="#fff" opacity="0.55"/><rect x="256.32" y="483.74" width="0.8" height="0.8" fill="#fff" opacity="0.56"/><rect x="266.34" y="491.69" width="0.8" height="0.8" fill="#fff" opacity="0.80"/><rect x="255.94" y="477.50" width="0.8" height="0.8" fill="#fff" opacity="0.63"/><rect x="254.42" y="475.29" width="0.8" height="0.8" fill="#fff" opacity="0.36"/><rect x="270.56" y="474.88" width="0.8" height="0.8" fill="#fff" opacity="0.56"/><rect x="278.03" y="480.39" width="0.8" height="0.8" fill="#fff" opacity="0.56"/><rect x="275.02" y="485.63" width="0.8" height="0.8" fill="#fff" opacity="0.61"/><rect x="260.94" y="487.56" width="0.8" height="0.8" fill="#fff" opacity="0.70"/><rect x="264.08" y="498.05" width="0.8" height="0.8" fill="#fff" opacity="0.67"/><rect x="260.61" y="498.11" width="0.8" height="0.8" fill="#fff" opacity="0.62"/><rect x="271.85" y="488.31" width="0.8" height="0.8" fill="#fff" opacity="0.38"/><rect x="250.63" y="490.57" width="0.8" height="0.8" fill="#fff" opacity="0.91"/><rect x="260.85" y="478.84" width="0.8" height="0.8" fill="#fff" opacity="0.49"/><rect x="267.35" y="493.41" width="0.8" height="0.8" fill="#fff" opacity="0.73"/><rect x="275.66" y="485.57" width="0.8" height="0.8" fill="#fff" opacity="0.61"/><rect x="256.76" y="471.58" width="0.8" height="0.8" fill="#fff" opacity="0.59"/><rect x="257.79" y="478.95" width="0.8" height="0.8" fill="#fff" opacity="0.62"/><rect x="262.07" y="481.24" width="0.8" height="0.8" fill="#fff" opacity="0.66"/><rect x="257.60" y="483.90" width="0.8" height="0.8" fill="#fff" opacity="0.50"/><rect x="268.78" y="475.50" width="0.8" height="0.8" fill="#fff" opacity="0.47"/><rect x="261.99" y="495.35" width="0.8" height="0.8" fill="#fff" opacity="0.59"/><rect x="259.08" y="491.36" width="0.8" height="0.8" fill="#fff" opacity="0.48"/><rect x="252.03" y="483.64" width="0.8" height="0.8" fill="#fff" opacity="0.40"/><rect x="256.98" y="479.19" width="0.8" height="0.8" fill="#fff" opacity="0.94"/><rect x="269.90" y="481.79" width="0.8" height="0.8" fill="#fff" opacity="0.77"/><rect x="261.48" y="488.44" width="0.8" height="0.8" fill="#fff" opacity="0.88"/><rect x="276.48" y="476.22" width="0.8" height="0.8" fill="#fff" opacity="0.73"/><rect x="276.39" y="482.35" width="0.8" height="0.8" fill="#fff" opacity="0.76"/><rect x="255.93" y="471.78" width="0.8" height="0.8" fill="#fff" opacity="0.86"/><rect x="262.05" y="490.92" width="0.8" height="0.8" fill="#fff" opacity="0.68"/><rect x="256.41" y="478.89" width="0.8" height="0.8" fill="#fff" opacity="0.87"/><rect x="272.26" y="473.14" width="0.8" height="0.8" fill="#fff" opacity="0.67"/><rect x="262.10" y="477.30" width="0.8" height="0.8" fill="#fff" opacity="0.83"/><rect x="275.17" y="494.97" width="0.8" height="0.8" fill="#fff" opacity="0.73"/><rect x="263.30" y="490.92" width="0.8" height="0.8" fill="#fff" opacity="0.71"/><rect x="251.40" y="487.02" width="0.8" height="0.8" fill="#fff" opacity="0.41"/><rect x="271.97" y="476.56" width="0.8" height="0.8" fill="#fff" opacity="0.61"/><rect x="263.60" y="471.49" width="0.8" height="0.8" fill="#fff" opacity="0.62"/><rect x="261.58" y="494.60" width="0.8" height="0.8" fill="#fff" opacity="0.37"/><rect x="263.96" y="498.62" width="0.8" height="0.8" fill="#fff" opacity="0.42"/><rect x="277.22" y="491.63" width="0.8" height="0.8" fill="#fff" opacity="0.57"/><rect x="252.38" y="481.70" width="0.8" height="0.8" fill="#fff" opacity="0.78"/><rect x="258.59" y="496.83" width="0.8" height="0.8" fill="#fff" opacity="0.35"/><rect x="269.65" y="476.66" width="0.8" height="0.8" fill="#fff" opacity="0.73"/><rect x="259.89" y="497.15" width="0.8" height="0.8" fill="#fff" opacity="0.58"/><rect x="257.20" y="478.53" width="0.8" height="0.8" fill="#fff" opacity="0.85"/><rect x="265.72" y="476.88" width="0.8" height="0.8" fill="#fff" opacity="0.80"/><rect x="271.83" y="481.23" width="0.8" height="0.8" fill="#fff" opacity="0.46"/><rect x="278.84" y="477.37" width="0.8" height="0.8" fill="#fff" opacity="0.43"/><rect x="266.98" y="468.67" width="0.8" height="0.8" fill="#fff" opacity="0.51"/><rect x="266.18" y="475.38" width="0.8" height="0.8" fill="#fff" opacity="0.82"/><rect x="253.45" y="483.42" width="0.8" height="0.8" fill="#fff" opacity="0.42"/><rect x="256.75" y="472.98" width="0.8" height="0.8" fill="#fff" opacity="0.52"/><rect x="269.15" y="485.35" width="0.8" height="0.8" fill="#fff" opacity="0.51"/><rect x="278.38" y="483.71" width="0.8" height="0.8" fill="#fff" opacity="0.89"/><rect x="264.49" y="478.11" width="0.8" height="0.8" fill="#fff" opacity="0.58"/><rect x="278.63" y="479.40" width="0.8" height="0.8" fill="#fff" opacity="0.94"/><rect x="270.27" y="471.71" width="0.8" height="0.8" fill="#fff" opacity="0.81"/><rect x="273.58" y="478.63" width="0.8" height="0.8" fill="#fff" opacity="0.37"/><rect x="263.79" y="485.71" width="0.8" height="0.8" fill="#fff" opacity="0.51"/><rect x="257.37" y="479.48" width="0.8" height="0.8" fill="#fff" opacity="0.50"/><rect x="272.48" y="489.40" width="0.8" height="0.8" fill="#fff" opacity="0.66"/><rect x="251.35" y="475.54" width="0.8" height="0.8" fill="#fff" opacity="0.39"/><rect x="264.36" y="488.46" width="0.8" height="0.8" fill="#fff" opacity="0.91"/><rect x="255.68" y="474.38" width="0.8" height="0.8" fill="#fff" opacity="0.84"/><rect x="279.80" y="484.24" width="0.8" height="0.8" fill="#fff" opacity="0.55"/><rect x="257.43" y="476.60" width="0.8" height="0.8" fill="#fff" opacity="0.80"/><rect x="261.78" y="492.04" width="0.8" height="0.8" fill="#fff" opacity="0.50"/><rect x="262.78" y="473.26" width="0.8" height="0.8" fill="#fff" opacity="0.44"/><rect x="257.04" y="493.57" width="0.8" height="0.8" fill="#fff" opacity="0.57"/><rect x="252.14" y="475.88" width="0.8" height="0.8" fill="#fff" opacity="0.73"/><rect x="267.31" y="475.59" width="0.8" height="0.8" fill="#fff" opacity="0.87"/><rect x="275.42" y="479.74" width="0.8" height="0.8" fill="#fff" opacity="0.36"/><rect x="276.52" y="491.20" width="0.8" height="0.8" fill="#fff" opacity="0.87"/><rect x="262.66" y="472.67" width="0.8" height="0.8" fill="#fff" opacity="0.67"/><rect x="273.81" y="492.28" width="0.8" height="0.8" fill="#fff" opacity="0.95"/><rect x="267.97" y="496.09" width="0.8" height="0.8" fill="#fff" opacity="0.86"/><rect x="258.90" y="476.28" width="0.8" height="0.8" fill="#fff" opacity="0.49"/><rect x="262.82" y="468.58" width="0.8" height="0.8" fill="#fff" opacity="0.88"/><rect x="253.22" y="492.12" width="0.8" height="0.8" fill="#fff" opacity="0.84"/>
<circle cx="278.9" cy="499.8" r="2.9" fill="#5a9d9d"/>
<ellipse cx="157.2" cy="420.3" rx="31.8" ry="25.1" fill="#fff" stroke="#6aa7a7" stroke-width="0.8"/>
<path d="M141.19,407.69 A13.8,13.8 0 0 0 141.19,432.91 A22,22 0 0 1 141.19,407.69 Z" fill="#5a9d9d" opacity="0.75"/>
<path d="M140.92,407.90 L142.70,408.52 M139.64,408.61 L141.43,409.41 M138.21,409.99 L142.87,410.93 M136.62,411.27 L141.91,412.68 M135.13,413.50 L144.05,415.15 M134.67,414.78 L145.00,417.82 M133.76,416.62 L145.26,418.13 M133.43,417.91 L145.27,420.14 M133.35,420.86 L147.59,422.90 M133.55,421.89 L148.12,423.08 M133.82,424.40 L146.24,423.26 M134.37,426.26 L144.78,423.93 M135.56,427.96 L141.96,425.57 M136.58,429.11 L142.93,428.43 M138.07,430.34 L142.79,429.02 M139.49,432.04 L142.38,430.77 M141.49,432.45 L143.02,431.61" stroke="#5a9d9d" stroke-width="1.0" fill="none" stroke-linecap="round"/>
<path d="M175.31,407.69 A13.8,13.8 0 0 1 175.31,432.91 A22,22 0 0 0 175.31,407.69 Z" fill="#5a9d9d" opacity="0.75"/>
<path d="M175.83,408.35 L172.41,409.38 M177.39,409.54 L173.21,410.60 M179.12,410.21 L174.17,411.09 M180.38,411.91 L174.64,413.99 M181.35,413.62 L171.83,415.40 M182.35,414.91 L171.96,416.46 M182.38,416.15 L170.92,418.64 M182.83,418.49 L170.50,418.53 M182.92,420.17 L170.06,420.31 M182.94,422.68 L170.22,420.58 M183.01,423.90 L170.74,423.65 M182.32,426.11 L173.56,424.21 M181.49,427.60 L173.92,425.24 M180.23,428.57 L174.65,426.82 M178.31,430.55 L173.89,428.95 M177.54,431.37 L174.77,430.34 M175.64,432.58 L173.79,431.54" stroke="#5a9d9d" stroke-width="1.0" fill="none" stroke-linecap="round"/>
<ellipse cx="157.2" cy="486.5" rx="31.8" ry="25.1" fill="#fff" stroke="#6aa7a7" stroke-width="0.8"/>
<path d="M141.19,473.89 A13.8,13.8 0 0 0 141.19,499.11 A22,22 0 0 1 141.19,473.89 Z" fill="#5a9d9d" opacity="0.75"/>
<path d="M141.21,474.15 L143.55,475.15 M138.95,475.72 L142.34,476.80 M138.02,476.22 L141.86,477.29 M135.95,477.83 L141.36,479.98 M135.12,479.02 L142.12,479.48 M134.35,480.38 L143.77,481.90 M133.66,482.23 L145.37,485.39 M133.28,485.09 L145.98,484.79 M133.50,486.27 L146.10,485.82 M133.04,487.87 L147.31,488.94 M133.76,490.06 L146.65,489.06 M134.32,491.80 L145.59,490.43 M135.51,493.35 L144.66,491.38 M136.11,494.97 L141.78,492.95 M138.03,496.46 L142.49,495.11 M139.01,497.81 L141.83,497.19 M141.06,498.97 L143.73,498.02" stroke="#5a9d9d" stroke-width="1.0" fill="none" stroke-linecap="round"/>
<path d="M175.31,473.89 A13.8,13.8 0 0 1 175.31,499.11 A22,22 0 0 0 175.31,473.89 Z" fill="#5a9d9d" opacity="0.75"/>
<path d="M175.79,474.21 L173.76,474.85 M177.51,475.25 L173.30,476.70 M178.63,476.26 L174.14,477.47 M179.92,477.43 L174.38,479.55 M181.28,479.20 L171.96,479.94 M182.20,480.58 L172.40,482.17 M182.80,482.17 L171.98,484.31 M182.90,484.42 L170.32,485.92 M183.15,486.54 L168.37,485.33 M182.95,488.87 L169.42,487.27 M182.58,490.47 L170.09,490.41 M181.91,492.14 L173.10,490.36 M181.24,494.12 L174.79,491.77 M180.08,495.51 L173.87,494.70 M178.90,496.18 L174.64,495.66 M176.96,498.01 L172.99,496.21 M176.12,498.71 L173.32,497.23" stroke="#5a9d9d" stroke-width="1.0" fill="none" stroke-linecap="round"/>
<path d="M157,487.6 L162.2,486.6" stroke="#5a9d9d" stroke-width="1.2" stroke-linecap="round"/>
<ellipse cx="157.2" cy="552.6" rx="31.8" ry="25.1" fill="#fff" stroke="#6aa7a7" stroke-width="0.8"/>
<path d="M141.19,539.99 A13.8,13.8 0 0 0 141.19,565.21 A22,22 0 0 1 141.19,539.99 Z" fill="#5a9d9d" opacity="0.75"/>
<path d="M141.13,540.54 L143.31,541.32 M139.39,541.11 L141.85,542.07 M138.03,542.28 L142.42,543.90 M136.10,543.84 L142.02,545.77 M135.06,545.61 L142.68,546.63 M134.34,546.89 L143.71,549.05 M134.05,548.99 L145.94,550.47 M133.09,551.00 L147.62,549.54 M132.93,552.20 L145.80,554.31 M133.60,554.21 L147.60,555.44 M133.73,556.93 L145.86,555.04 M134.46,557.91 L145.26,556.16 M135.16,559.62 L144.21,558.13 M136.44,561.25 L142.44,559.93 M138.12,562.64 L141.09,561.45 M139.00,563.98 L142.61,562.89 M141.24,565.20 L142.92,564.40" stroke="#5a9d9d" stroke-width="1.0" fill="none" stroke-linecap="round"/>
<path d="M175.31,539.99 A13.8,13.8 0 0 1 175.31,565.21 A22,22 0 0 0 175.31,539.99 Z" fill="#5a9d9d" opacity="0.75"/>
<path d="M175.60,540.61 L174.05,541.14 M177.26,541.17 L175.02,542.13 M178.84,542.89 L173.82,543.61 M180.39,544.23 L174.48,545.60 M181.17,544.80 L174.87,546.71 M182.30,547.55 L170.53,548.79 M182.64,549.17 L170.11,551.14 M182.96,550.95 L169.63,552.57 M183.45,552.07 L170.62,551.61 M183.17,554.59 L170.12,555.62 M182.60,556.66 L171.66,554.72 M181.93,558.70 L173.66,557.22 M180.98,559.45 L173.50,558.23 M180.17,560.99 L174.24,560.31 M178.59,562.48 L173.16,560.83 M177.23,564.24 L173.66,563.48 M176.05,564.91 L172.95,563.74" stroke="#5a9d9d" stroke-width="1.0" fill="none" stroke-linecap="round"/>
<path d="M143,552.6 Q158,554.8 173,552.6" stroke="#5a9d9d" stroke-width="1.5" fill="none"/>
<rect x="153.4" y="438.25" width="46.5" height="17.2" rx="2.2" fill="#b3d3d3"/>
<text x="164.6" y="448.45" font-size="8" fill="#6e6e6e">R<tspan font-size="6.3" dy="2.3">normal</tspan></text>
<rect x="153.4" y="505.35" width="46.5" height="17.2" rx="2.2" fill="#b3d3d3"/>
<text x="164.6" y="515.55" font-size="8" fill="#6e6e6e">R<tspan font-size="6.3" dy="2.3">laggard</tspan></text>
<rect x="153.4" y="571.20" width="46.5" height="17.2" rx="2.2" fill="#b3d3d3"/>
<text x="164.6" y="581.40" font-size="8" fill="#6e6e6e">R<tspan font-size="6.3" dy="2.3">bridge</tspan></text>
<circle cx="22.10" cy="463.30" r="6.6" fill="#a8cdcd"/>
<text x="22.10" y="465.90" font-size="7.5" fill="#555" stroke="#555" stroke-width="0.12" text-anchor="middle" >1</text>
<circle cx="131.20" cy="395.50" r="6.6" fill="#a8cdcd"/>
<text x="131.20" y="398.10" font-size="7.5" fill="#555" stroke="#555" stroke-width="0.12" text-anchor="middle" >2</text>
<circle cx="131.20" cy="461.20" r="6.6" fill="#a8cdcd"/>
<text x="131.20" y="463.80" font-size="7.5" fill="#555" stroke="#555" stroke-width="0.12" text-anchor="middle" >3</text>
<circle cx="131.20" cy="526.60" r="6.6" fill="#a8cdcd"/>
<text x="131.20" y="529.20" font-size="7.5" fill="#555" stroke="#555" stroke-width="0.12" text-anchor="middle" >4</text>
<circle cx="292.90" cy="463.30" r="6.6" fill="#a8cdcd"/>
<text x="292.90" y="465.90" font-size="7.5" fill="#555" stroke="#555" stroke-width="0.12" text-anchor="middle" >5</text>
<circle cx="132.00" cy="590.00" r="6.6" fill="#a8cdcd"/>
<text x="132.00" y="592.60" font-size="7.5" fill="#555" stroke="#555" stroke-width="0.12" text-anchor="middle" >0</text>
<text x="146.80" y="607.60" font-size="7.8" fill="#111" stroke="#111" stroke-width="0.12" text-anchor="start" >Arrest</text>
<path d="M54,451.4 C60,426 84,412.6 120.4,412.7" fill="none" stroke="#5c5c5c" stroke-width="1.4" marker-end="url(#ah)"/>
<path d="M117.5,421.4 C92,421.6 70,433 62.4,456.4" fill="none" stroke="#5c5c5c" stroke-width="1.4" marker-end="url(#ah)"/>
<path d="M261.4,451.4 C255.4,426 231.4,412.6 195.4,412.9" fill="none" stroke="#5c5c5c" stroke-width="1.4" marker-end="url(#ah)"/>
<path d="M197.5,421.2 C223,421.6 245.4,433 253.2,456.4" fill="none" stroke="#5c5c5c" stroke-width="1.4" marker-end="url(#ah)"/>
<path d="M77.6,482.0 L120.8,482.0" fill="none" stroke="#5c5c5c" stroke-width="1.4" marker-end="url(#ah)"/>
<path d="M121.0,491.3 L77.6,491.3" fill="none" stroke="#5c5c5c" stroke-width="1.4" marker-end="url(#ah)"/>
<path d="M193.4,482.0 L237.0,482.0" fill="none" stroke="#5c5c5c" stroke-width="1.4" marker-end="url(#ah)"/>
<path d="M237.3,491.3 L193.6,491.3" fill="none" stroke="#5c5c5c" stroke-width="1.4" marker-end="url(#ah)"/>
<path d="M118,552.3 C92,552 70,540 63.1,520.5" fill="none" stroke="#5c5c5c" stroke-width="1.4" marker-end="url(#ah)"/>
<path d="M54.2,521.7 C60,546 85,560.3 120.6,560.4" fill="none" stroke="#5c5c5c" stroke-width="1.4" marker-end="url(#ah)"/>
<path d="M43.9,522.8 C50,572 90,601 133.4,603.3" fill="none" stroke="#5c5c5c" stroke-width="1.4" marker-end="url(#ah)"/>
<path d="M197.3,552.3 C223,552 245,540 254.1,516.4" fill="none" stroke="#5c5c5c" stroke-width="1.4" marker-end="url(#ah)"/>
<path d="M261.4,522 C255,546 232,560.3 198.8,560.4" fill="none" stroke="#5c5c5c" stroke-width="1.4" marker-end="url(#ah)"/>
<path d="M271.2,522 C265,572 225,601 181.4,603.3" fill="none" stroke="#5c5c5c" stroke-width="1.4" marker-end="url(#ah)"/>
<text x="72.00" y="414.20" font-size="8" fill="#767676"><tspan font-style="italic">p</tspan><tspan font-size="6.4" dx="0.5" dy="2.2">12</tspan></text>
<text x="88.60" y="436.00" font-size="8" fill="#767676"><tspan font-style="italic">p</tspan><tspan font-size="6.4" dx="0.5" dy="2.2">21</tspan></text>
<text x="231.00" y="415.80" font-size="8" fill="#767676"><tspan font-style="italic">p</tspan><tspan font-size="6.4" dx="0.5" dy="2.2">52</tspan></text>
<text x="221.20" y="437.20" font-size="8" fill="#767676"><tspan font-style="italic">p</tspan><tspan font-size="6.4" dx="0.5" dy="2.2">25</tspan></text>
<text x="91.50" y="475.80" font-size="8" fill="#767676"><tspan font-style="italic">p</tspan><tspan font-size="6.4" dx="0.5" dy="2.2">13</tspan></text>
<text x="91.50" y="498.20" font-size="8" fill="#767676"><tspan font-style="italic">p</tspan><tspan font-size="6.4" dx="0.5" dy="2.2">31</tspan></text>
<text x="208.40" y="476.40" font-size="8" fill="#767676"><tspan font-style="italic">p</tspan><tspan font-size="6.4" dx="0.5" dy="2.2">35</tspan></text>
<text x="208.40" y="499.30" font-size="8" fill="#767676"><tspan font-style="italic">p</tspan><tspan font-size="6.4" dx="0.5" dy="2.2">53</tspan></text>
<text x="83.80" y="538.20" font-size="8" fill="#767676"><tspan font-style="italic">p</tspan><tspan font-size="6.4" dx="0.5" dy="2.2">41</tspan></text>
<text x="70.80" y="559.00" font-size="8" fill="#767676"><tspan font-style="italic">p</tspan><tspan font-size="6.4" dx="0.5" dy="2.2">14</tspan></text>
<text x="70.80" y="597.50" font-size="8" fill="#767676"><tspan font-style="italic">p</tspan><tspan font-size="6.4" dx="0.5" dy="2.2">10</tspan></text>
<text x="221.80" y="536.60" font-size="8" fill="#767676"><tspan font-style="italic">p</tspan><tspan font-size="6.4" dx="0.5" dy="2.2">45</tspan></text>
<text x="239.30" y="557.20" font-size="8" fill="#767676"><tspan font-style="italic">p</tspan><tspan font-size="6.4" dx="0.5" dy="2.2">54</tspan></text>
<text x="241.50" y="592.50" font-size="8" fill="#767676"><tspan font-style="italic">p</tspan><tspan font-size="6.4" dx="0.5" dy="2.2">50</tspan></text>
<text x="314.60" y="395.70" font-size="10.5" font-weight="bold" fill="#000" stroke="#000" stroke-width="0.25">h</text>
<line x1="348.60" y1="418.30" x2="348.60" y2="567.20" stroke="#909090" stroke-width="0.9" />
<line x1="344.60" y1="567.20" x2="491.90" y2="567.20" stroke="#909090" stroke-width="1.0" />
<line x1="344.60" y1="567.20" x2="348.60" y2="567.20" stroke="#7a7a7a" stroke-width="0.8" />
<text x="340.80" y="570.10" font-size="8" fill="#1c1c1c" stroke="#1c1c1c" stroke-width="0.12" text-anchor="end" >0</text>
<line x1="344.60" y1="537.44" x2="348.60" y2="537.44" stroke="#7a7a7a" stroke-width="0.8" />
<text x="340.80" y="540.34" font-size="8" fill="#1c1c1c" stroke="#1c1c1c" stroke-width="0.12" text-anchor="end" >0.2</text>
<line x1="344.60" y1="507.68" x2="348.60" y2="507.68" stroke="#7a7a7a" stroke-width="0.8" />
<text x="340.80" y="510.58" font-size="8" fill="#1c1c1c" stroke="#1c1c1c" stroke-width="0.12" text-anchor="end" >0.4</text>
<line x1="344.60" y1="477.92" x2="348.60" y2="477.92" stroke="#7a7a7a" stroke-width="0.8" />
<text x="340.80" y="480.82" font-size="8" fill="#1c1c1c" stroke="#1c1c1c" stroke-width="0.12" text-anchor="end" >0.6</text>
<line x1="344.60" y1="448.16" x2="348.60" y2="448.16" stroke="#7a7a7a" stroke-width="0.8" />
<text x="340.80" y="451.06" font-size="8" fill="#1c1c1c" stroke="#1c1c1c" stroke-width="0.12" text-anchor="end" >0.8</text>
<line x1="344.60" y1="418.40" x2="348.60" y2="418.40" stroke="#7a7a7a" stroke-width="0.8" />
<text x="340.80" y="421.30" font-size="8" fill="#1c1c1c" stroke="#1c1c1c" stroke-width="0.12" text-anchor="end" >1.0</text>
<line x1="372.80" y1="567.20" x2="372.80" y2="571.80" stroke="#808080" stroke-width="0.8" />
<text x="0" y="0" font-size="8" fill="#1c1c1c" stroke="#1c1c1c" stroke-width="0.12" text-anchor="end" transform="translate(375.70,578.60) rotate(-35)">Normal</text>
<line x1="420.20" y1="567.20" x2="420.20" y2="571.80" stroke="#808080" stroke-width="0.8" />
<text x="0" y="0" font-size="8" fill="#1c1c1c" stroke="#1c1c1c" stroke-width="0.12" text-anchor="end" transform="translate(423.10,578.60) rotate(-35)">Laggard</text>
<line x1="468.00" y1="567.20" x2="468.00" y2="571.80" stroke="#808080" stroke-width="0.8" />
<text x="0" y="0" font-size="8" fill="#1c1c1c" stroke="#1c1c1c" stroke-width="0.12" text-anchor="end" transform="translate(470.90,578.60) rotate(-35)">Bridge</text>
<g fill="#8a8a8a"><circle cx="415.8" cy="425.4" r="1.3"/><circle cx="418.9" cy="424.0" r="1.3"/><circle cx="420.7" cy="424.9" r="1.3"/><circle cx="421.6" cy="425.8" r="1.3"/><circle cx="422.5" cy="426.7" r="1.3"/><circle cx="423.0" cy="428.0" r="1.3"/><circle cx="424.3" cy="429.0" r="1.3"/><circle cx="419.4" cy="429.9" r="1.3"/><circle cx="416.7" cy="430.8" r="1.3"/><circle cx="418.9" cy="431.7" r="1.3"/><circle cx="421.6" cy="432.6" r="1.3"/><circle cx="418.0" cy="433.0" r="1.3"/><circle cx="415.8" cy="434.8" r="1.3"/><circle cx="417.6" cy="436.6" r="1.3"/><circle cx="424.8" cy="436.6" r="1.3"/><circle cx="420.7" cy="438.4" r="1.3"/><circle cx="416.2" cy="439.3" r="1.3"/><circle cx="423.9" cy="439.8" r="1.3"/><circle cx="415.8" cy="441.6" r="1.3"/><circle cx="419.4" cy="443.8" r="1.3"/><circle cx="416.7" cy="446.1" r="1.3"/><circle cx="421.6" cy="446.5" r="1.3"/><circle cx="417.1" cy="448.3" r="1.3"/><circle cx="422.1" cy="448.8" r="1.3"/><circle cx="418.0" cy="450.6" r="1.3"/><circle cx="423.0" cy="451.0" r="1.3"/><circle cx="420.3" cy="453.7" r="1.3"/><circle cx="418.9" cy="458.2" r="1.3"/><circle cx="423.9" cy="458.2" r="1.3"/><circle cx="416.7" cy="462.3" r="1.3"/><circle cx="422.1" cy="461.7" r="1.3"/><circle cx="416.7" cy="465.9" r="1.3"/><circle cx="422.1" cy="466.4" r="1.3"/><circle cx="419.5" cy="427.5" r="1.3"/><circle cx="417.5" cy="428.2" r="1.3"/><circle cx="420.5" cy="435.2" r="1.3"/><circle cx="417.2" cy="444.6" r="1.3"/><circle cx="422.6" cy="450.0" r="1.3"/><circle cx="418.0" cy="426.0" r="1.3"/><circle cx="420.0" cy="427.0" r="1.3"/><circle cx="422.0" cy="428.0" r="1.3"/><circle cx="419.5" cy="432.0" r="1.3"/><circle cx="417.0" cy="437.5" r="1.3"/><circle cx="421.5" cy="441.0" r="1.3"/><circle cx="472.0" cy="428.9" r="1.3"/><circle cx="463.7" cy="430.9" r="1.3"/><circle cx="465.8" cy="431.2" r="1.3"/><circle cx="467.1" cy="433.0" r="1.3"/><circle cx="468.9" cy="433.6" r="1.3"/><circle cx="469.9" cy="434.6" r="1.3"/><circle cx="463.4" cy="440.4" r="1.3"/><circle cx="467.7" cy="439.8" r="1.3"/><circle cx="472.0" cy="440.0" r="1.3"/><circle cx="465.2" cy="443.5" r="1.3"/><circle cx="467.7" cy="444.1" r="1.3"/><circle cx="464.0" cy="445.9" r="1.3"/><circle cx="463.4" cy="447.8" r="1.3"/><circle cx="462.8" cy="449.6" r="1.3"/><circle cx="468.9" cy="450.8" r="1.3"/><circle cx="472.0" cy="451.8" r="1.3"/><circle cx="465.2" cy="453.5" r="1.3"/><circle cx="468.3" cy="454.5" r="1.3"/><circle cx="472.0" cy="455.8" r="1.3"/><circle cx="472.0" cy="458.0" r="1.3"/><circle cx="464.0" cy="458.5" r="1.3"/><circle cx="466.5" cy="457.6" r="1.3"/><circle cx="468.3" cy="459.4" r="1.3"/><circle cx="469.5" cy="461.3" r="1.3"/><circle cx="470.1" cy="462.5" r="1.3"/><circle cx="466.5" cy="464.6" r="1.3"/><circle cx="465.8" cy="471.7" r="1.3"/><circle cx="470.1" cy="471.1" r="1.3"/><circle cx="471.0" cy="472.7" r="1.3"/><circle cx="464.2" cy="475.2" r="1.3"/><circle cx="468.3" cy="475.4" r="1.3"/><circle cx="468.9" cy="478.1" r="1.3"/><circle cx="464.2" cy="479.4" r="1.3"/><circle cx="465.0" cy="488.0" r="1.3"/><circle cx="468.9" cy="487.5" r="1.3"/><circle cx="469.5" cy="493.3" r="1.3"/><circle cx="466.0" cy="441.5" r="1.3"/><circle cx="469.5" cy="441.0" r="1.3"/><circle cx="464.5" cy="452.0" r="1.3"/><circle cx="470.5" cy="456.5" r="1.3"/><circle cx="466.0" cy="460.0" r="1.3"/><circle cx="372.1" cy="558.3" r="1.3"/><circle cx="372.2" cy="556.5" r="1.3"/><circle cx="370.8" cy="556.8" r="1.3"/><circle cx="374.7" cy="558.1" r="1.3"/><circle cx="374.6" cy="557.7" r="1.3"/><circle cx="373.4" cy="557.6" r="1.3"/><circle cx="369.4" cy="559.0" r="1.3"/><circle cx="373.6" cy="558.2" r="1.3"/><circle cx="369.4" cy="553.5" r="1.3"/><circle cx="370.9" cy="556.2" r="1.3"/><circle cx="373.2" cy="557.1" r="1.3"/><circle cx="373.6" cy="555.9" r="1.3"/><circle cx="373.2" cy="558.0" r="1.3"/><circle cx="371.3" cy="560.8" r="1.3"/><circle cx="373.7" cy="559.7" r="1.3"/><circle cx="371.4" cy="555.6" r="1.3"/><circle cx="371.9" cy="557.0" r="1.3"/><circle cx="373.8" cy="557.7" r="1.3"/><circle cx="371.8" cy="555.2" r="1.3"/><circle cx="371.6" cy="559.8" r="1.3"/><circle cx="371.1" cy="557.7" r="1.3"/><circle cx="373.4" cy="554.1" r="1.3"/><circle cx="372.7" cy="559.9" r="1.3"/><circle cx="368.8" cy="556.5" r="1.3"/><circle cx="372.4" cy="555.5" r="1.3"/><circle cx="373.5" cy="557.1" r="1.3"/><circle cx="369.8" cy="558.9" r="1.3"/><circle cx="373.9" cy="559.2" r="1.3"/><circle cx="375.3" cy="558.0" r="1.3"/><circle cx="372.8" cy="554.5" r="1.3"/><circle cx="373.8" cy="555.9" r="1.3"/><circle cx="371.7" cy="554.5" r="1.3"/><circle cx="370.8" cy="556.1" r="1.3"/><circle cx="375.0" cy="552.9" r="1.3"/><circle cx="369.8" cy="557.7" r="1.3"/><circle cx="375.3" cy="558.4" r="1.3"/><circle cx="369.0" cy="551.9" r="1.3"/><circle cx="373.3" cy="555.7" r="1.3"/><circle cx="370.5" cy="559.3" r="1.3"/><circle cx="374.7" cy="557.5" r="1.3"/><circle cx="373.1" cy="558.1" r="1.3"/><circle cx="375.6" cy="558.5" r="1.3"/><circle cx="373.6" cy="558.4" r="1.3"/><circle cx="369.6" cy="559.9" r="1.3"/><circle cx="374.4" cy="558.3" r="1.3"/><circle cx="368.8" cy="555.9" r="1.3"/><circle cx="374.2" cy="553.4" r="1.3"/><circle cx="372.3" cy="559.3" r="1.3"/><circle cx="370.1" cy="560.6" r="1.3"/><circle cx="373.6" cy="556.9" r="1.3"/><circle cx="373.2" cy="558.6" r="1.3"/><circle cx="372.8" cy="559.6" r="1.3"/><circle cx="371.3" cy="556.3" r="1.3"/><circle cx="374.6" cy="557.3" r="1.3"/><circle cx="370.9" cy="559.2" r="1.3"/><circle cx="375.4" cy="556.3" r="1.3"/><circle cx="370.0" cy="556.9" r="1.3"/><circle cx="372.3" cy="556.6" r="1.3"/><circle cx="375.3" cy="555.0" r="1.3"/><circle cx="375.0" cy="554.5" r="1.3"/><circle cx="371.1" cy="558.5" r="1.3"/><circle cx="374.7" cy="559.0" r="1.3"/><circle cx="373.3" cy="557.5" r="1.3"/><circle cx="372.9" cy="558.4" r="1.3"/><circle cx="372.3" cy="557.8" r="1.3"/><circle cx="373.7" cy="557.2" r="1.3"/><circle cx="374.1" cy="558.4" r="1.3"/><circle cx="376.4" cy="557.9" r="1.3"/><circle cx="371.8" cy="556.4" r="1.3"/><circle cx="372.6" cy="559.1" r="1.3"/><circle cx="371.8" cy="551.6" r="1.3"/><circle cx="374.6" cy="552.2" r="1.3"/><circle cx="372.5" cy="563.5" r="1.3"/><circle cx="371.8" cy="565.3" r="1.3"/><circle cx="373.0" cy="562.8" r="1.3"/></g>
<line x1="360.60" y1="561.50" x2="384.70" y2="561.50" stroke="#000" stroke-width="1.3" />
<line x1="408.10" y1="429.30" x2="432.00" y2="429.30" stroke="#000" stroke-width="1.3" />
<line x1="455.60" y1="441.30" x2="480.00" y2="441.30" stroke="#000" stroke-width="1.3" />
<text x="420.40" y="608.20" font-size="8" fill="#1c1c1c" stroke="#1c1c1c" stroke-width="0.12" text-anchor="middle" >Mitosis type</text>
<text x="421.10" y="401.10" font-size="8" fill="#1c1c1c" stroke="#1c1c1c" stroke-width="0.12" text-anchor="middle" >MCF10A WT</text>
<text x="352.90" y="411.00" font-size="8" fill="#1c1c1c" stroke="#1c1c1c" stroke-width="0.12" text-anchor="start" >Adjusted normal CA frequency: 10.0%</text>
<line x1="511.50" y1="418.30" x2="511.50" y2="567.20" stroke="#909090" stroke-width="0.9" />
<line x1="507.50" y1="567.20" x2="654.80" y2="567.20" stroke="#909090" stroke-width="1.0" />
<line x1="507.50" y1="567.20" x2="511.50" y2="567.20" stroke="#7a7a7a" stroke-width="0.8" />
<line x1="507.50" y1="537.44" x2="511.50" y2="537.44" stroke="#7a7a7a" stroke-width="0.8" />
<line x1="507.50" y1="507.68" x2="511.50" y2="507.68" stroke="#7a7a7a" stroke-width="0.8" />
<line x1="507.50" y1="477.92" x2="511.50" y2="477.92" stroke="#7a7a7a" stroke-width="0.8" />
<line x1="507.50" y1="448.16" x2="511.50" y2="448.16" stroke="#7a7a7a" stroke-width="0.8" />
<line x1="507.50" y1="418.40" x2="511.50" y2="418.40" stroke="#7a7a7a" stroke-width="0.8" />
<line x1="535.20" y1="567.20" x2="535.20" y2="571.80" stroke="#808080" stroke-width="0.8" />
<text x="0" y="0" font-size="8" fill="#1c1c1c" stroke="#1c1c1c" stroke-width="0.12" text-anchor="end" transform="translate(538.10,578.60) rotate(-35)">Normal</text>
<line x1="582.50" y1="567.20" x2="582.50" y2="571.80" stroke="#808080" stroke-width="0.8" />
<text x="0" y="0" font-size="8" fill="#1c1c1c" stroke="#1c1c1c" stroke-width="0.12" text-anchor="end" transform="translate(585.40,578.60) rotate(-35)">Laggard</text>
<line x1="630.30" y1="567.20" x2="630.30" y2="571.80" stroke="#808080" stroke-width="0.8" />
<text x="0" y="0" font-size="8" fill="#1c1c1c" stroke="#1c1c1c" stroke-width="0.12" text-anchor="end" transform="translate(633.20,578.60) rotate(-35)">Bridge</text>
<g fill="#8a8a8a"><circle cx="582.0" cy="423.5" r="1.3"/><circle cx="586.9" cy="423.0" r="1.3"/><circle cx="581.1" cy="425.2" r="1.3"/><circle cx="578.4" cy="427.3" r="1.3"/><circle cx="582.8" cy="428.0" r="1.3"/><circle cx="585.2" cy="428.0" r="1.3"/><circle cx="580.3" cy="430.1" r="1.3"/><circle cx="583.6" cy="430.6" r="1.3"/><circle cx="586.1" cy="429.3" r="1.3"/><circle cx="581.1" cy="432.5" r="1.3"/><circle cx="586.9" cy="433.4" r="1.3"/><circle cx="583.6" cy="435.8" r="1.3"/><circle cx="584.4" cy="437.8" r="1.3"/><circle cx="585.2" cy="439.1" r="1.3"/><circle cx="580.3" cy="441.6" r="1.3"/><circle cx="578.7" cy="444.0" r="1.3"/><circle cx="580.3" cy="446.5" r="1.3"/><circle cx="582.0" cy="448.1" r="1.3"/><circle cx="583.6" cy="449.8" r="1.3"/><circle cx="581.1" cy="452.2" r="1.3"/><circle cx="585.2" cy="452.2" r="1.3"/><circle cx="582.8" cy="453.9" r="1.3"/><circle cx="580.3" cy="456.3" r="1.3"/><circle cx="579.2" cy="464.5" r="1.3"/><circle cx="579.2" cy="468.6" r="1.3"/><circle cx="584.6" cy="480.7" r="1.3"/><circle cx="586.6" cy="499.5" r="1.3"/><circle cx="586.6" cy="504.1" r="1.3"/><circle cx="584.9" cy="505.7" r="1.3"/><circle cx="585.6" cy="510.3" r="1.3"/><circle cx="579.3" cy="520.3" r="1.3"/><circle cx="582.6" cy="551.1" r="1.3"/><circle cx="582.5" cy="427.0" r="1.3"/><circle cx="584.0" cy="431.5" r="1.3"/><circle cx="582.0" cy="434.0" r="1.3"/><circle cx="580.5" cy="428.5" r="1.3"/><circle cx="582.8" cy="429.8" r="1.3"/><circle cx="584.5" cy="431.0" r="1.3"/><circle cx="579.8" cy="432.8" r="1.3"/><circle cx="582.2" cy="436.8" r="1.3"/><circle cx="584.8" cy="441.0" r="1.3"/><circle cx="582.5" cy="443.2" r="1.3"/><circle cx="580.8" cy="438.8" r="1.3"/><circle cx="583.0" cy="445.8" r="1.3"/><circle cx="581.5" cy="450.0" r="1.3"/><circle cx="628.9" cy="419.7" r="1.3"/><circle cx="629.8" cy="424.8" r="1.3"/><circle cx="629.8" cy="426.9" r="1.3"/><circle cx="625.3" cy="428.9" r="1.3"/><circle cx="627.1" cy="429.9" r="1.3"/><circle cx="630.7" cy="433.5" r="1.3"/><circle cx="625.5" cy="437.4" r="1.3"/><circle cx="633.2" cy="440.1" r="1.3"/><circle cx="631.7" cy="441.7" r="1.3"/><circle cx="629.6" cy="443.2" r="1.3"/><circle cx="626.6" cy="445.3" r="1.3"/><circle cx="628.6" cy="445.8" r="1.3"/><circle cx="630.7" cy="445.3" r="1.3"/><circle cx="633.7" cy="445.3" r="1.3"/><circle cx="626.1" cy="447.8" r="1.3"/><circle cx="629.1" cy="447.8" r="1.3"/><circle cx="632.2" cy="447.3" r="1.3"/><circle cx="634.7" cy="447.8" r="1.3"/><circle cx="628.1" cy="449.9" r="1.3"/><circle cx="630.7" cy="449.3" r="1.3"/><circle cx="633.7" cy="452.4" r="1.3"/><circle cx="627.5" cy="444.0" r="1.3"/><circle cx="632.0" cy="443.5" r="1.3"/><circle cx="631.0" cy="446.5" r="1.3"/><circle cx="627.0" cy="446.8" r="1.3"/><circle cx="625.8" cy="446.0" r="1.3"/><circle cx="626.0" cy="448.5" r="1.3"/><circle cx="628.0" cy="447.0" r="1.3"/><circle cx="630.0" cy="448.0" r="1.3"/><circle cx="632.5" cy="449.5" r="1.3"/><circle cx="627.5" cy="450.5" r="1.3"/><circle cx="629.5" cy="451.0" r="1.3"/><circle cx="631.5" cy="451.5" r="1.3"/><circle cx="625.0" cy="445.5" r="1.3"/><circle cx="634.5" cy="444.5" r="1.3"/><circle cx="633.0" cy="442.5" r="1.3"/><circle cx="628.5" cy="442.5" r="1.3"/><circle cx="626.8" cy="443.5" r="1.3"/><circle cx="534.4" cy="562.9" r="1.3"/><circle cx="540.1" cy="558.5" r="1.3"/><circle cx="532.4" cy="562.7" r="1.3"/><circle cx="536.3" cy="562.7" r="1.3"/><circle cx="534.2" cy="563.3" r="1.3"/><circle cx="536.0" cy="561.5" r="1.3"/><circle cx="541.6" cy="562.8" r="1.3"/><circle cx="533.9" cy="562.2" r="1.3"/><circle cx="534.7" cy="562.2" r="1.3"/><circle cx="528.2" cy="561.6" r="1.3"/><circle cx="537.9" cy="560.5" r="1.3"/><circle cx="535.1" cy="563.7" r="1.3"/><circle cx="537.5" cy="564.5" r="1.3"/><circle cx="530.9" cy="561.8" r="1.3"/><circle cx="534.4" cy="563.2" r="1.3"/><circle cx="538.1" cy="558.3" r="1.3"/><circle cx="538.1" cy="560.1" r="1.3"/><circle cx="537.1" cy="560.1" r="1.3"/><circle cx="535.8" cy="564.1" r="1.3"/><circle cx="534.9" cy="562.6" r="1.3"/><circle cx="537.4" cy="562.5" r="1.3"/><circle cx="535.1" cy="564.6" r="1.3"/><circle cx="538.0" cy="561.9" r="1.3"/><circle cx="542.4" cy="560.6" r="1.3"/><circle cx="537.7" cy="561.9" r="1.3"/><circle cx="535.6" cy="563.4" r="1.3"/><circle cx="535.9" cy="563.3" r="1.3"/><circle cx="531.3" cy="560.0" r="1.3"/><circle cx="536.9" cy="560.9" r="1.3"/><circle cx="532.6" cy="560.1" r="1.3"/><circle cx="538.6" cy="563.4" r="1.3"/><circle cx="539.1" cy="560.9" r="1.3"/><circle cx="535.3" cy="560.6" r="1.3"/><circle cx="537.3" cy="564.7" r="1.3"/><circle cx="533.0" cy="564.6" r="1.3"/><circle cx="537.9" cy="562.0" r="1.3"/><circle cx="530.2" cy="564.4" r="1.3"/><circle cx="535.0" cy="561.4" r="1.3"/><circle cx="536.3" cy="562.9" r="1.3"/><circle cx="539.2" cy="560.8" r="1.3"/><circle cx="532.1" cy="556.1" r="1.3"/></g>
<line x1="523.00" y1="562.60" x2="547.00" y2="562.60" stroke="#000" stroke-width="1.3" />
<line x1="570.80" y1="443.70" x2="595.10" y2="443.70" stroke="#000" stroke-width="1.3" />
<line x1="618.20" y1="443.20" x2="642.70" y2="443.20" stroke="#000" stroke-width="1.3" />
<text x="582.75" y="608.20" font-size="8" fill="#1c1c1c" stroke="#1c1c1c" stroke-width="0.12" text-anchor="middle" >Mitosis type</text>
<text x="583.45" y="401.10" font-size="8" fill="#1c1c1c" stroke="#1c1c1c" stroke-width="0.12" text-anchor="middle" >MCF10A <tspan font-style="italic">TP53</tspan><tspan font-size="5.5" dy="-3.2">&#8722;/&#8722;</tspan></text>
<text x="515.10" y="411.00" font-size="8" fill="#1c1c1c" stroke="#1c1c1c" stroke-width="0.12" text-anchor="start" >Adjusted normal CA frequency: 21.0%</text>
<text x="0" y="0" font-size="8" fill="#1c1c1c" stroke="#1c1c1c" stroke-width="0.12" text-anchor="middle" transform="translate(321.80,493.00) rotate(-90)">Estimated rate of CA generation</text>
</svg>
</body></html>
